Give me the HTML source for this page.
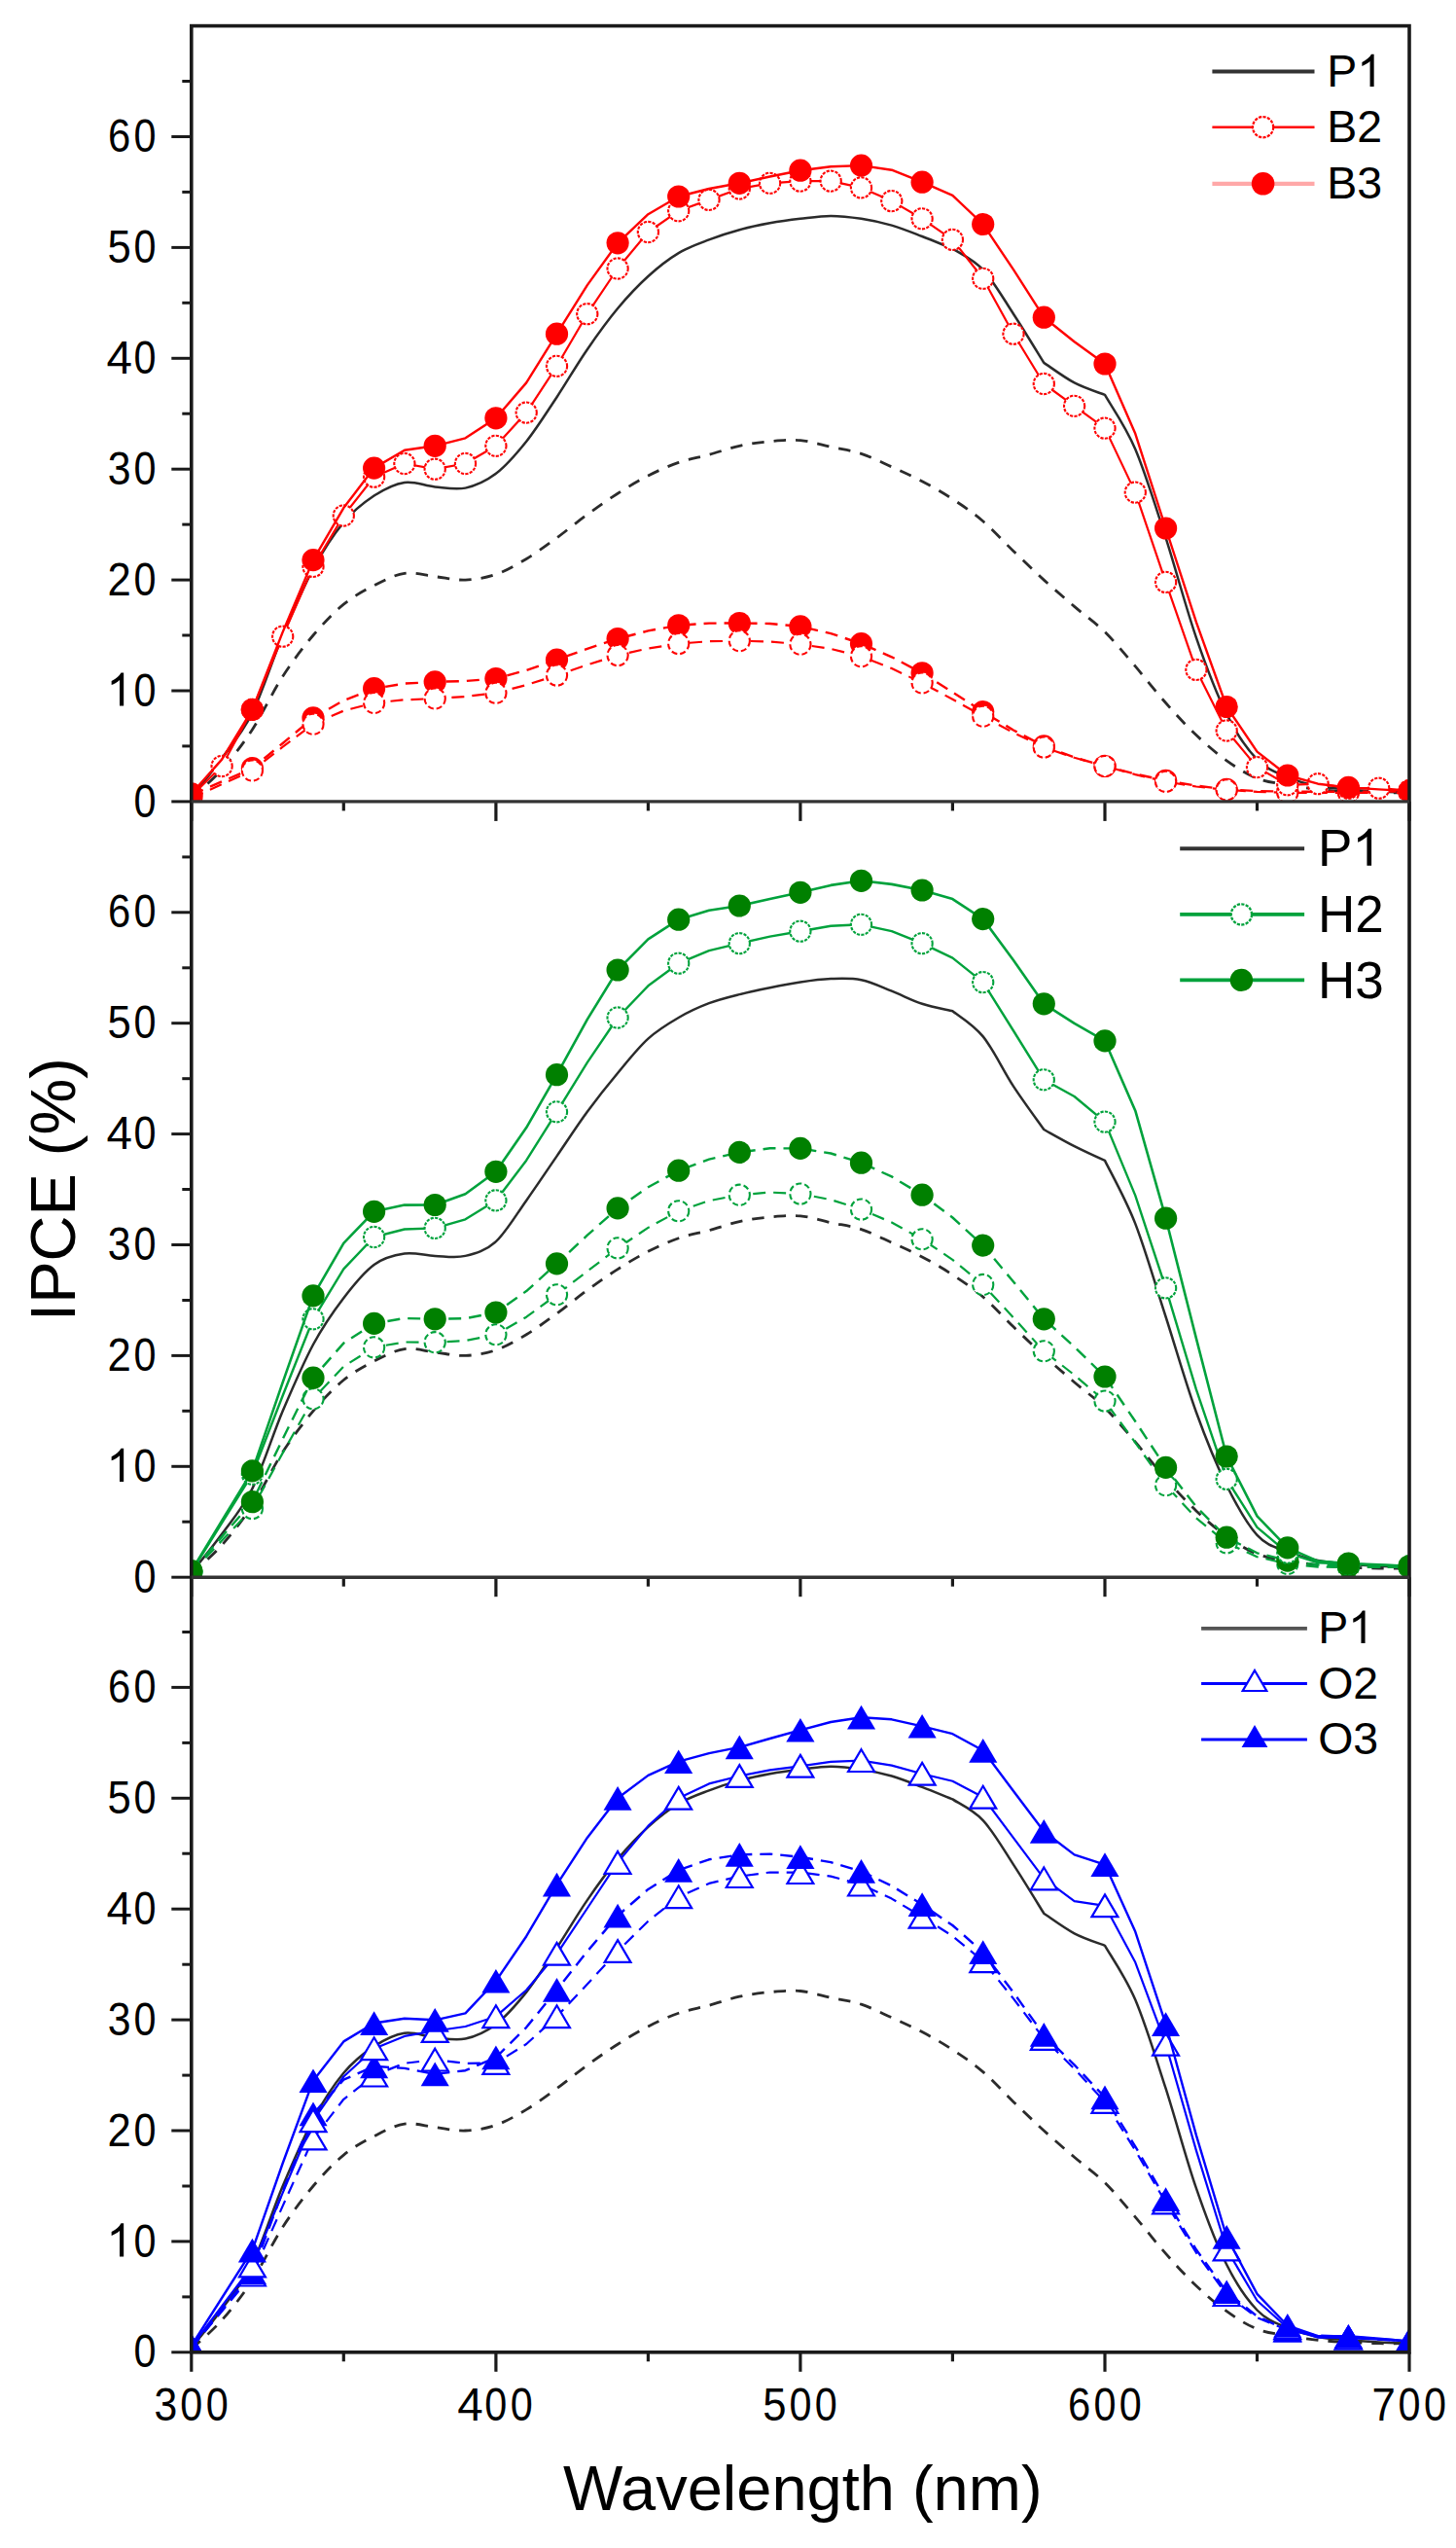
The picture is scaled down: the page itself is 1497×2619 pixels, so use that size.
<!DOCTYPE html>
<html><head><meta charset="utf-8"><title>IPCE</title>
<style>html,body{margin:0;padding:0;background:#fff;width:1497px;height:2619px;overflow:hidden;font-family:"Liberation Sans",sans-serif;}svg{display:block;}</style>
</head><body>
<svg width="1497" height="2619" viewBox="0 0 1497 2619"><rect x="0" y="0" width="1497" height="2619" fill="#fff"/>
<clipPath id="cp0"><rect x="196.8" y="26.6" width="1252.2" height="797.3"/></clipPath>
<clipPath id="cp1"><rect x="196.8" y="823.9" width="1252.2" height="797.3"/></clipPath>
<clipPath id="cp2"><rect x="196.8" y="1620.5" width="1252.2" height="797.3"/></clipPath>
<g clip-path="url(#cp0)">
<path d="M196.8,819.3 C202.0,812.7 217.7,793.9 228.1,779.5 C238.5,765.1 249.0,753.9 259.4,732.8 C269.8,711.7 280.3,677.7 290.7,653.0 C301.2,628.4 311.6,604.1 322.0,584.7 C332.5,565.3 342.9,549.4 353.3,536.9 C363.8,524.3 374.2,516.4 384.6,509.5 C395.1,502.7 405.5,497.4 415.9,495.9 C426.4,494.3 436.8,499.5 447.2,500.4 C457.7,501.4 468.1,503.8 478.5,501.6 C489.0,499.3 499.4,494.7 509.9,486.8 C520.3,478.8 530.7,466.8 541.2,453.7 C551.6,440.6 562.0,423.9 572.5,408.2 C582.9,392.4 593.3,374.4 603.8,359.2 C614.2,344.0 624.6,329.6 635.1,317.0 C645.5,304.5 655.9,293.5 666.4,284.0 C676.8,274.5 687.2,266.4 697.7,260.1 C708.1,253.8 718.5,250.4 729.0,246.4 C739.4,242.4 749.9,239.0 760.3,236.2 C770.7,233.3 781.2,231.2 791.6,229.3 C802.0,227.4 812.5,226.0 822.9,224.8 C833.3,223.6 843.8,221.9 854.2,221.9 C864.6,221.9 875.1,223.2 885.5,224.8 C895.9,226.4 906.4,228.6 916.8,231.6 C927.3,234.7 937.7,239.0 948.1,243.0 C958.6,247.0 974.2,253.5 979.4,255.5 C984.6,259.1 1000.3,266.0 1010.7,277.2 C1021.2,288.4 1031.6,306.8 1042.0,322.7 C1052.5,338.7 1068.1,364.5 1073.3,372.9 C1078.6,376.3 1094.2,387.9 1104.6,393.4 C1115.1,398.9 1130.7,403.8 1136.0,405.9 C1141.2,415.2 1156.8,437.2 1167.3,461.7 C1177.7,486.2 1188.1,520.5 1198.6,552.8 C1209.0,585.1 1219.4,625.1 1229.9,655.3 C1240.3,685.5 1250.7,713.0 1261.2,733.9 C1271.6,754.8 1282.0,769.8 1292.5,780.6 C1302.9,791.4 1313.3,794.3 1323.8,798.8 C1334.2,803.4 1344.7,805.9 1355.1,808.0 C1365.5,810.0 1376.0,810.4 1386.4,811.4 C1396.8,812.3 1407.3,813.1 1417.7,813.6 C1428.1,814.2 1443.8,814.6 1449.0,814.8" fill="none" stroke="#2b2b2b" stroke-width="2.50" stroke-linejoin="round"/>
<path d="M196.8,820.5 C202.0,815.5 217.7,802.6 228.1,790.9 C238.5,779.1 249.0,765.8 259.4,749.9 C269.8,733.9 280.3,711.3 290.7,695.2 C301.2,679.1 311.6,665.4 322.0,653.0 C332.5,640.7 342.9,629.7 353.3,621.2 C363.8,612.6 374.2,607.1 384.6,601.8 C395.1,596.5 405.5,590.8 415.9,589.3 C426.4,587.7 436.8,591.5 447.2,592.7 C457.7,593.8 468.1,596.5 478.5,596.1 C489.0,595.7 499.4,594.0 509.9,590.4 C520.3,586.8 530.7,580.7 541.2,574.5 C551.6,568.2 562.0,560.4 572.5,552.8 C582.9,545.2 593.3,536.5 603.8,528.9 C614.2,521.3 624.6,513.9 635.1,507.3 C645.5,500.6 655.9,494.3 666.4,489.0 C676.8,483.7 687.2,479.0 697.7,475.4 C708.1,471.8 718.5,470.2 729.0,467.4 C739.4,464.5 749.9,460.6 760.3,458.3 C770.7,456.0 781.2,454.7 791.6,453.7 C802.0,452.8 812.5,451.6 822.9,452.6 C833.3,453.5 843.8,457.1 854.2,459.4 C864.6,461.7 875.1,462.8 885.5,466.3 C895.9,469.7 906.4,475.2 916.8,479.9 C927.3,484.7 937.7,489.2 948.1,494.7 C958.6,500.2 969.0,506.1 979.4,513.0 C989.9,519.8 1000.3,526.8 1010.7,535.7 C1021.2,544.7 1031.6,556.4 1042.0,566.5 C1052.5,576.5 1062.9,586.6 1073.3,596.1 C1083.8,605.6 1094.2,614.5 1104.6,623.4 C1115.1,632.4 1125.5,639.4 1136.0,649.6 C1146.4,659.9 1156.8,672.8 1167.3,684.9 C1177.7,697.1 1188.1,710.8 1198.6,722.5 C1209.0,734.3 1219.4,745.7 1229.9,755.6 C1240.3,765.4 1250.7,774.4 1261.2,781.8 C1271.6,789.2 1282.0,795.8 1292.5,800.0 C1302.9,804.2 1313.3,804.9 1323.8,806.8 C1334.2,808.7 1344.7,810.2 1355.1,811.4 C1365.5,812.5 1376.0,813.1 1386.4,813.6 C1396.8,814.2 1407.3,814.6 1417.7,814.8 C1428.1,815.0 1443.8,814.8 1449.0,814.8" fill="none" stroke="#2b2b2b" stroke-width="2.80" stroke-dasharray="12.5,10" stroke-linejoin="round"/>
<path d="M196.8,817.1 L228.1,803.4 L259.4,789.7 L290.7,764.0 L322.0,737.9 L353.3,720.0 L384.6,707.7 L415.9,702.6 L447.2,700.9 L478.5,700.0 L509.9,697.5 L541.2,688.9 L572.5,678.1 L603.8,666.9 L635.1,656.5 L666.4,648.4 L697.7,642.8 L729.0,640.6 L760.3,640.5 L791.6,641.0 L822.9,643.9 L854.2,651.1 L885.5,661.6 L916.8,675.3 L948.1,691.8 L979.4,711.4 L1010.7,731.6 L1042.0,750.5 L1073.3,766.9 L1104.6,778.5 L1136.0,787.5 L1167.3,795.6 L1198.6,802.3 L1229.9,807.6 L1261.2,811.4 L1292.5,813.1 L1323.8,813.6 L1355.1,813.8 L1386.4,813.6 L1417.7,813.6 L1449.0,813.6" fill="none" stroke="#ff0000" stroke-width="2.40" stroke-dasharray="13,8" stroke-linejoin="round"/>
<circle cx="196.8" cy="817.1" r="11.6" fill="#ff0000" stroke="none" stroke-width="0.0"/>
<circle cx="259.4" cy="789.7" r="11.6" fill="#ff0000" stroke="none" stroke-width="0.0"/>
<circle cx="322.0" cy="737.9" r="11.6" fill="#ff0000" stroke="none" stroke-width="0.0"/>
<circle cx="384.6" cy="707.7" r="11.6" fill="#ff0000" stroke="none" stroke-width="0.0"/>
<circle cx="447.2" cy="700.9" r="11.6" fill="#ff0000" stroke="none" stroke-width="0.0"/>
<circle cx="509.9" cy="697.5" r="11.6" fill="#ff0000" stroke="none" stroke-width="0.0"/>
<circle cx="572.5" cy="678.1" r="11.6" fill="#ff0000" stroke="none" stroke-width="0.0"/>
<circle cx="635.1" cy="656.5" r="11.6" fill="#ff0000" stroke="none" stroke-width="0.0"/>
<circle cx="697.7" cy="642.8" r="11.6" fill="#ff0000" stroke="none" stroke-width="0.0"/>
<circle cx="760.3" cy="640.5" r="11.6" fill="#ff0000" stroke="none" stroke-width="0.0"/>
<circle cx="822.9" cy="643.9" r="11.6" fill="#ff0000" stroke="none" stroke-width="0.0"/>
<circle cx="885.5" cy="661.6" r="11.6" fill="#ff0000" stroke="none" stroke-width="0.0"/>
<circle cx="948.1" cy="691.8" r="11.6" fill="#ff0000" stroke="none" stroke-width="0.0"/>
<circle cx="1010.7" cy="731.6" r="11.6" fill="#ff0000" stroke="none" stroke-width="0.0"/>
<circle cx="1073.3" cy="766.9" r="11.6" fill="#ff0000" stroke="none" stroke-width="0.0"/>
<circle cx="1136.0" cy="787.5" r="11.6" fill="#ff0000" stroke="none" stroke-width="0.0"/>
<circle cx="1198.6" cy="802.3" r="11.6" fill="#ff0000" stroke="none" stroke-width="0.0"/>
<circle cx="1261.2" cy="811.4" r="11.6" fill="#ff0000" stroke="none" stroke-width="0.0"/>
<circle cx="1323.8" cy="813.6" r="11.6" fill="#ff0000" stroke="none" stroke-width="0.0"/>
<circle cx="1386.4" cy="813.6" r="11.6" fill="#ff0000" stroke="none" stroke-width="0.0"/>
<circle cx="1449.0" cy="813.6" r="11.6" fill="#ff0000" stroke="none" stroke-width="0.0"/>
<path d="M196.8,820.5 L228.1,806.2 L259.4,792.0 L290.7,767.7 L322.0,744.2 L353.3,730.6 L384.6,722.5 L415.9,719.3 L447.2,718.0 L478.5,716.0 L509.9,712.3 L541.2,704.1 L572.5,694.1 L603.8,683.4 L635.1,673.6 L666.4,666.5 L697.7,661.6 L729.0,659.2 L760.3,658.7 L791.6,659.5 L822.9,662.2 L854.2,666.9 L885.5,674.7 L916.8,687.0 L948.1,702.0 L979.4,718.8 L1010.7,736.2 L1042.0,753.1 L1073.3,768.1 L1104.6,778.8 L1136.0,787.5 L1167.3,796.1 L1198.6,803.4 L1229.9,808.5 L1261.2,811.9 L1292.5,813.9 L1323.8,814.8 L1355.1,815.0 L1386.4,814.8 L1417.7,814.8 L1449.0,814.8" fill="none" stroke="#ff0000" stroke-width="2.20" stroke-dasharray="13,8" stroke-linejoin="round"/>
<circle cx="196.8" cy="820.5" r="10.6" fill="#fff" stroke="#ff0000" stroke-width="2.1" stroke-dasharray="6,3"/>
<circle cx="259.4" cy="792.0" r="10.6" fill="#fff" stroke="#ff0000" stroke-width="2.1" stroke-dasharray="6,3"/>
<circle cx="322.0" cy="744.2" r="10.6" fill="#fff" stroke="#ff0000" stroke-width="2.1" stroke-dasharray="6,3"/>
<circle cx="384.6" cy="722.5" r="10.6" fill="#fff" stroke="#ff0000" stroke-width="2.1" stroke-dasharray="6,3"/>
<circle cx="447.2" cy="718.0" r="10.6" fill="#fff" stroke="#ff0000" stroke-width="2.1" stroke-dasharray="6,3"/>
<circle cx="509.9" cy="712.3" r="10.6" fill="#fff" stroke="#ff0000" stroke-width="2.1" stroke-dasharray="6,3"/>
<circle cx="572.5" cy="694.1" r="10.6" fill="#fff" stroke="#ff0000" stroke-width="2.1" stroke-dasharray="6,3"/>
<circle cx="635.1" cy="673.6" r="10.6" fill="#fff" stroke="#ff0000" stroke-width="2.1" stroke-dasharray="6,3"/>
<circle cx="697.7" cy="661.6" r="10.6" fill="#fff" stroke="#ff0000" stroke-width="2.1" stroke-dasharray="6,3"/>
<circle cx="760.3" cy="658.7" r="10.6" fill="#fff" stroke="#ff0000" stroke-width="2.1" stroke-dasharray="6,3"/>
<circle cx="822.9" cy="662.2" r="10.6" fill="#fff" stroke="#ff0000" stroke-width="2.1" stroke-dasharray="6,3"/>
<circle cx="885.5" cy="674.7" r="10.6" fill="#fff" stroke="#ff0000" stroke-width="2.1" stroke-dasharray="6,3"/>
<circle cx="948.1" cy="702.0" r="10.6" fill="#fff" stroke="#ff0000" stroke-width="2.1" stroke-dasharray="6,3"/>
<circle cx="1010.7" cy="736.2" r="10.6" fill="#fff" stroke="#ff0000" stroke-width="2.1" stroke-dasharray="6,3"/>
<circle cx="1073.3" cy="768.1" r="10.6" fill="#fff" stroke="#ff0000" stroke-width="2.1" stroke-dasharray="6,3"/>
<circle cx="1136.0" cy="787.5" r="10.6" fill="#fff" stroke="#ff0000" stroke-width="2.1" stroke-dasharray="6,3"/>
<circle cx="1198.6" cy="803.4" r="10.6" fill="#fff" stroke="#ff0000" stroke-width="2.1" stroke-dasharray="6,3"/>
<circle cx="1261.2" cy="811.9" r="10.6" fill="#fff" stroke="#ff0000" stroke-width="2.1" stroke-dasharray="6,3"/>
<circle cx="1323.8" cy="814.8" r="10.6" fill="#fff" stroke="#ff0000" stroke-width="2.1" stroke-dasharray="6,3"/>
<circle cx="1386.4" cy="814.8" r="10.6" fill="#fff" stroke="#ff0000" stroke-width="2.1" stroke-dasharray="6,3"/>
<circle cx="1449.0" cy="814.8" r="10.6" fill="#fff" stroke="#ff0000" stroke-width="2.1" stroke-dasharray="6,3"/>
<path d="M196.8,818.2 L228.1,787.5 L259.4,729.4 L290.7,654.2 L322.0,582.4 L353.3,530.0 L384.6,490.2 L415.9,476.5 L447.2,482.2 L478.5,476.5 L509.9,458.3 L541.2,424.1 L572.5,376.3 L603.8,322.7 L635.1,276.0 L666.4,238.5 L697.7,216.8 L729.0,205.4 L760.3,194.0 L791.6,188.3 L822.9,186.1 L854.2,186.1 L885.5,192.9 L916.8,206.6 L948.1,224.8 L979.4,246.4 L1010.7,286.3 L1042.0,343.2 L1073.3,394.5 L1104.6,417.3 L1136.0,440.1 L1167.3,506.1 L1198.6,598.4 L1229.9,688.4 L1261.2,751.0 L1292.5,788.6 L1323.8,806.8 L1355.1,805.7 L1386.4,810.2 L1417.7,810.2 L1449.0,812.5" fill="none" stroke="#ff0000" stroke-width="2.20" stroke-linejoin="round"/>
<circle cx="196.8" cy="818.2" r="10.6" fill="#fff" stroke="#ff0000" stroke-width="2.1" stroke-dasharray="3.2,1.3"/>
<circle cx="228.1" cy="787.5" r="10.6" fill="#fff" stroke="#ff0000" stroke-width="2.1" stroke-dasharray="3.2,1.3"/>
<circle cx="259.4" cy="729.4" r="10.6" fill="#fff" stroke="#ff0000" stroke-width="2.1" stroke-dasharray="3.2,1.3"/>
<circle cx="290.7" cy="654.2" r="10.6" fill="#fff" stroke="#ff0000" stroke-width="2.1" stroke-dasharray="3.2,1.3"/>
<circle cx="322.0" cy="582.4" r="10.6" fill="#fff" stroke="#ff0000" stroke-width="2.1" stroke-dasharray="3.2,1.3"/>
<circle cx="353.3" cy="530.0" r="10.6" fill="#fff" stroke="#ff0000" stroke-width="2.1" stroke-dasharray="3.2,1.3"/>
<circle cx="384.6" cy="490.2" r="10.6" fill="#fff" stroke="#ff0000" stroke-width="2.1" stroke-dasharray="3.2,1.3"/>
<circle cx="415.9" cy="476.5" r="10.6" fill="#fff" stroke="#ff0000" stroke-width="2.1" stroke-dasharray="3.2,1.3"/>
<circle cx="447.2" cy="482.2" r="10.6" fill="#fff" stroke="#ff0000" stroke-width="2.1" stroke-dasharray="3.2,1.3"/>
<circle cx="478.5" cy="476.5" r="10.6" fill="#fff" stroke="#ff0000" stroke-width="2.1" stroke-dasharray="3.2,1.3"/>
<circle cx="509.9" cy="458.3" r="10.6" fill="#fff" stroke="#ff0000" stroke-width="2.1" stroke-dasharray="3.2,1.3"/>
<circle cx="541.2" cy="424.1" r="10.6" fill="#fff" stroke="#ff0000" stroke-width="2.1" stroke-dasharray="3.2,1.3"/>
<circle cx="572.5" cy="376.3" r="10.6" fill="#fff" stroke="#ff0000" stroke-width="2.1" stroke-dasharray="3.2,1.3"/>
<circle cx="603.8" cy="322.7" r="10.6" fill="#fff" stroke="#ff0000" stroke-width="2.1" stroke-dasharray="3.2,1.3"/>
<circle cx="635.1" cy="276.0" r="10.6" fill="#fff" stroke="#ff0000" stroke-width="2.1" stroke-dasharray="3.2,1.3"/>
<circle cx="666.4" cy="238.5" r="10.6" fill="#fff" stroke="#ff0000" stroke-width="2.1" stroke-dasharray="3.2,1.3"/>
<circle cx="697.7" cy="216.8" r="10.6" fill="#fff" stroke="#ff0000" stroke-width="2.1" stroke-dasharray="3.2,1.3"/>
<circle cx="729.0" cy="205.4" r="10.6" fill="#fff" stroke="#ff0000" stroke-width="2.1" stroke-dasharray="3.2,1.3"/>
<circle cx="760.3" cy="194.0" r="10.6" fill="#fff" stroke="#ff0000" stroke-width="2.1" stroke-dasharray="3.2,1.3"/>
<circle cx="791.6" cy="188.3" r="10.6" fill="#fff" stroke="#ff0000" stroke-width="2.1" stroke-dasharray="3.2,1.3"/>
<circle cx="822.9" cy="186.1" r="10.6" fill="#fff" stroke="#ff0000" stroke-width="2.1" stroke-dasharray="3.2,1.3"/>
<circle cx="854.2" cy="186.1" r="10.6" fill="#fff" stroke="#ff0000" stroke-width="2.1" stroke-dasharray="3.2,1.3"/>
<circle cx="885.5" cy="192.9" r="10.6" fill="#fff" stroke="#ff0000" stroke-width="2.1" stroke-dasharray="3.2,1.3"/>
<circle cx="916.8" cy="206.6" r="10.6" fill="#fff" stroke="#ff0000" stroke-width="2.1" stroke-dasharray="3.2,1.3"/>
<circle cx="948.1" cy="224.8" r="10.6" fill="#fff" stroke="#ff0000" stroke-width="2.1" stroke-dasharray="3.2,1.3"/>
<circle cx="979.4" cy="246.4" r="10.6" fill="#fff" stroke="#ff0000" stroke-width="2.1" stroke-dasharray="3.2,1.3"/>
<circle cx="1010.7" cy="286.3" r="10.6" fill="#fff" stroke="#ff0000" stroke-width="2.1" stroke-dasharray="3.2,1.3"/>
<circle cx="1042.0" cy="343.2" r="10.6" fill="#fff" stroke="#ff0000" stroke-width="2.1" stroke-dasharray="3.2,1.3"/>
<circle cx="1073.3" cy="394.5" r="10.6" fill="#fff" stroke="#ff0000" stroke-width="2.1" stroke-dasharray="3.2,1.3"/>
<circle cx="1104.6" cy="417.3" r="10.6" fill="#fff" stroke="#ff0000" stroke-width="2.1" stroke-dasharray="3.2,1.3"/>
<circle cx="1136.0" cy="440.1" r="10.6" fill="#fff" stroke="#ff0000" stroke-width="2.1" stroke-dasharray="3.2,1.3"/>
<circle cx="1167.3" cy="506.1" r="10.6" fill="#fff" stroke="#ff0000" stroke-width="2.1" stroke-dasharray="3.2,1.3"/>
<circle cx="1198.6" cy="598.4" r="10.6" fill="#fff" stroke="#ff0000" stroke-width="2.1" stroke-dasharray="3.2,1.3"/>
<circle cx="1229.9" cy="688.4" r="10.6" fill="#fff" stroke="#ff0000" stroke-width="2.1" stroke-dasharray="3.2,1.3"/>
<circle cx="1261.2" cy="751.0" r="10.6" fill="#fff" stroke="#ff0000" stroke-width="2.1" stroke-dasharray="3.2,1.3"/>
<circle cx="1292.5" cy="788.6" r="10.6" fill="#fff" stroke="#ff0000" stroke-width="2.1" stroke-dasharray="3.2,1.3"/>
<circle cx="1323.8" cy="806.8" r="10.6" fill="#fff" stroke="#ff0000" stroke-width="2.1" stroke-dasharray="3.2,1.3"/>
<circle cx="1355.1" cy="805.7" r="10.6" fill="#fff" stroke="#ff0000" stroke-width="2.1" stroke-dasharray="3.2,1.3"/>
<circle cx="1386.4" cy="810.2" r="10.6" fill="#fff" stroke="#ff0000" stroke-width="2.1" stroke-dasharray="3.2,1.3"/>
<circle cx="1417.7" cy="810.2" r="10.6" fill="#fff" stroke="#ff0000" stroke-width="2.1" stroke-dasharray="3.2,1.3"/>
<circle cx="1449.0" cy="812.5" r="10.6" fill="#fff" stroke="#ff0000" stroke-width="2.1" stroke-dasharray="3.2,1.3"/>
<path d="M196.8,815.9 L228.1,780.6 L259.4,729.4 L290.7,649.6 L322.0,575.6 L353.3,522.1 L384.6,481.1 L415.9,462.8 L447.2,458.3 L478.5,450.3 L509.9,429.8 L541.2,393.4 L572.5,343.2 L603.8,293.1 L635.1,249.8 L666.4,220.2 L697.7,202.0 L729.0,194.0 L760.3,188.3 L791.6,181.5 L822.9,175.2 L854.2,171.3 L885.5,170.1 L916.8,174.7 L948.1,187.2 L979.4,200.9 L1010.7,230.5 L1042.0,277.2 L1073.3,326.2 L1104.6,351.2 L1136.0,374.0 L1167.3,445.8 L1198.6,543.0 L1229.9,639.4 L1261.2,726.5 L1292.5,772.6 L1323.8,797.0 L1355.1,805.7 L1386.4,809.4 L1417.7,811.4 L1449.0,813.1" fill="none" stroke="#ff0000" stroke-width="2.40" stroke-linejoin="round"/>
<circle cx="196.8" cy="815.9" r="11.6" fill="#ff0000" stroke="none" stroke-width="0.0"/>
<circle cx="259.4" cy="729.4" r="11.6" fill="#ff0000" stroke="none" stroke-width="0.0"/>
<circle cx="322.0" cy="575.6" r="11.6" fill="#ff0000" stroke="none" stroke-width="0.0"/>
<circle cx="384.6" cy="481.1" r="11.6" fill="#ff0000" stroke="none" stroke-width="0.0"/>
<circle cx="447.2" cy="458.3" r="11.6" fill="#ff0000" stroke="none" stroke-width="0.0"/>
<circle cx="509.9" cy="429.8" r="11.6" fill="#ff0000" stroke="none" stroke-width="0.0"/>
<circle cx="572.5" cy="343.2" r="11.6" fill="#ff0000" stroke="none" stroke-width="0.0"/>
<circle cx="635.1" cy="249.8" r="11.6" fill="#ff0000" stroke="none" stroke-width="0.0"/>
<circle cx="697.7" cy="202.0" r="11.6" fill="#ff0000" stroke="none" stroke-width="0.0"/>
<circle cx="760.3" cy="188.3" r="11.6" fill="#ff0000" stroke="none" stroke-width="0.0"/>
<circle cx="822.9" cy="175.2" r="11.6" fill="#ff0000" stroke="none" stroke-width="0.0"/>
<circle cx="885.5" cy="170.1" r="11.6" fill="#ff0000" stroke="none" stroke-width="0.0"/>
<circle cx="948.1" cy="187.2" r="11.6" fill="#ff0000" stroke="none" stroke-width="0.0"/>
<circle cx="1010.7" cy="230.5" r="11.6" fill="#ff0000" stroke="none" stroke-width="0.0"/>
<circle cx="1073.3" cy="326.2" r="11.6" fill="#ff0000" stroke="none" stroke-width="0.0"/>
<circle cx="1136.0" cy="374.0" r="11.6" fill="#ff0000" stroke="none" stroke-width="0.0"/>
<circle cx="1198.6" cy="543.0" r="11.6" fill="#ff0000" stroke="none" stroke-width="0.0"/>
<circle cx="1261.2" cy="726.5" r="11.6" fill="#ff0000" stroke="none" stroke-width="0.0"/>
<circle cx="1323.8" cy="797.0" r="11.6" fill="#ff0000" stroke="none" stroke-width="0.0"/>
<circle cx="1386.4" cy="809.4" r="11.6" fill="#ff0000" stroke="none" stroke-width="0.0"/>
<circle cx="1449.0" cy="813.1" r="11.6" fill="#ff0000" stroke="none" stroke-width="0.0"/>
</g>
<g clip-path="url(#cp1)">
<path d="M196.8,1616.6 C202.0,1610.0 217.7,1591.2 228.1,1576.8 C238.5,1562.4 249.0,1551.2 259.4,1530.1 C269.8,1509.0 280.3,1475.0 290.7,1450.3 C301.2,1425.7 311.6,1401.4 322.0,1382.0 C332.5,1362.6 342.9,1347.8 353.3,1334.2 C363.8,1320.5 374.2,1307.6 384.6,1300.0 C395.1,1292.4 405.5,1290.1 415.9,1288.6 C426.4,1287.1 436.8,1290.5 447.2,1290.9 C457.7,1291.3 468.1,1293.4 478.5,1290.9 C489.0,1288.4 499.4,1285.6 509.9,1276.1 C520.3,1266.6 530.7,1248.6 541.2,1233.9 C551.6,1219.3 562.0,1203.6 572.5,1188.4 C582.9,1173.2 593.3,1157.1 603.8,1142.8 C614.2,1128.6 624.6,1115.5 635.1,1103.0 C645.5,1090.4 655.9,1077.1 666.4,1067.6 C676.8,1058.2 687.2,1052.1 697.7,1046.0 C708.1,1039.9 718.5,1035.2 729.0,1031.2 C739.4,1027.2 749.9,1024.7 760.3,1022.1 C770.7,1019.4 781.2,1017.3 791.6,1015.3 C802.0,1013.2 812.5,1011.1 822.9,1009.6 C833.3,1008.0 843.8,1006.5 854.2,1006.1 C864.6,1005.8 875.1,1005.2 885.5,1007.3 C895.9,1009.4 906.4,1014.6 916.8,1018.7 C927.3,1022.8 937.7,1028.4 948.1,1031.8 C958.6,1035.2 974.2,1037.9 979.4,1039.2 C984.6,1043.5 1000.3,1052.5 1010.7,1065.4 C1021.2,1078.3 1031.6,1100.7 1042.0,1116.6 C1052.5,1132.6 1068.1,1153.6 1073.3,1161.0 C1078.6,1163.9 1094.2,1172.8 1104.6,1178.1 C1115.1,1183.4 1130.7,1190.5 1136.0,1192.9 C1141.2,1203.8 1156.8,1231.1 1167.3,1257.9 C1177.7,1284.6 1188.1,1321.3 1198.6,1353.5 C1209.0,1385.8 1219.4,1422.6 1229.9,1451.5 C1240.3,1480.3 1250.7,1505.6 1261.2,1526.7 C1271.6,1547.7 1282.0,1566.5 1292.5,1577.9 C1302.9,1589.3 1313.3,1590.6 1323.8,1595.0 C1334.2,1599.4 1344.7,1602.0 1355.1,1604.1 C1365.5,1606.2 1376.0,1606.6 1386.4,1607.5 C1396.8,1608.5 1407.3,1609.2 1417.7,1609.8 C1428.1,1610.4 1443.8,1610.8 1449.0,1610.9" fill="none" stroke="#2b2b2b" stroke-width="2.50" stroke-linejoin="round"/>
<path d="M196.8,1617.8 C202.0,1612.8 217.7,1599.9 228.1,1588.2 C238.5,1576.4 249.0,1563.1 259.4,1547.2 C269.8,1531.2 280.3,1508.6 290.7,1492.5 C301.2,1476.4 311.6,1462.7 322.0,1450.3 C332.5,1438.0 342.9,1427.0 353.3,1418.5 C363.8,1409.9 374.2,1404.4 384.6,1399.1 C395.1,1393.8 405.5,1388.1 415.9,1386.6 C426.4,1385.0 436.8,1388.8 447.2,1390.0 C457.7,1391.1 468.1,1393.8 478.5,1393.4 C489.0,1393.0 499.4,1391.3 509.9,1387.7 C520.3,1384.1 530.7,1378.0 541.2,1371.8 C551.6,1365.5 562.0,1357.7 572.5,1350.1 C582.9,1342.5 593.3,1333.8 603.8,1326.2 C614.2,1318.6 624.6,1311.2 635.1,1304.6 C645.5,1297.9 655.9,1291.6 666.4,1286.3 C676.8,1281.0 687.2,1276.3 697.7,1272.7 C708.1,1269.1 718.5,1267.5 729.0,1264.7 C739.4,1261.8 749.9,1257.9 760.3,1255.6 C770.7,1253.3 781.2,1252.0 791.6,1251.0 C802.0,1250.1 812.5,1248.9 822.9,1249.9 C833.3,1250.8 843.8,1254.4 854.2,1256.7 C864.6,1259.0 875.1,1260.1 885.5,1263.6 C895.9,1267.0 906.4,1272.5 916.8,1277.2 C927.3,1282.0 937.7,1286.5 948.1,1292.0 C958.6,1297.5 969.0,1303.4 979.4,1310.3 C989.9,1317.1 1000.3,1324.1 1010.7,1333.0 C1021.2,1342.0 1031.6,1353.7 1042.0,1363.8 C1052.5,1373.8 1062.9,1383.9 1073.3,1393.4 C1083.8,1402.9 1094.2,1411.8 1104.6,1420.7 C1115.1,1429.7 1125.5,1436.7 1136.0,1446.9 C1146.4,1457.2 1156.8,1470.1 1167.3,1482.2 C1177.7,1494.4 1188.1,1508.1 1198.6,1519.8 C1209.0,1531.6 1219.4,1543.0 1229.9,1552.9 C1240.3,1562.7 1250.7,1571.7 1261.2,1579.1 C1271.6,1586.5 1282.0,1593.1 1292.5,1597.3 C1302.9,1601.5 1313.3,1602.2 1323.8,1604.1 C1334.2,1606.0 1344.7,1607.5 1355.1,1608.7 C1365.5,1609.8 1376.0,1610.4 1386.4,1610.9 C1396.8,1611.5 1407.3,1611.9 1417.7,1612.1 C1428.1,1612.3 1443.8,1612.1 1449.0,1612.1" fill="none" stroke="#2b2b2b" stroke-width="2.80" stroke-dasharray="12.5,10" stroke-linejoin="round"/>
<path d="M196.8,1616.6 L228.1,1583.6 L259.4,1550.6 L290.7,1493.4 L322.0,1437.8 L353.3,1404.6 L384.6,1384.9 L415.9,1379.5 L447.2,1379.7 L478.5,1378.0 L509.9,1371.8 L541.2,1353.7 L572.5,1330.8 L603.8,1306.7 L635.1,1282.9 L666.4,1261.9 L697.7,1244.8 L729.0,1234.2 L760.3,1228.2 L791.6,1225.6 L822.9,1227.1 L854.2,1233.1 L885.5,1243.1 L916.8,1256.5 L948.1,1273.8 L979.4,1294.8 L1010.7,1320.5 L1042.0,1354.4 L1073.3,1388.8 L1104.6,1413.3 L1136.0,1440.1 L1167.3,1482.9 L1198.6,1526.7 L1229.9,1560.3 L1261.2,1585.9 L1292.5,1600.2 L1323.8,1607.5 L1355.1,1610.6 L1386.4,1610.9 L1417.7,1610.9 L1449.0,1610.9" fill="none" stroke="#00a23c" stroke-width="2.20" stroke-dasharray="13,8" stroke-linejoin="round"/>
<circle cx="196.8" cy="1616.6" r="10.6" fill="#fff" stroke="#00a23c" stroke-width="2.1" stroke-dasharray="6,3"/>
<circle cx="259.4" cy="1550.6" r="10.6" fill="#fff" stroke="#00a23c" stroke-width="2.1" stroke-dasharray="6,3"/>
<circle cx="322.0" cy="1437.8" r="10.6" fill="#fff" stroke="#00a23c" stroke-width="2.1" stroke-dasharray="6,3"/>
<circle cx="384.6" cy="1384.9" r="10.6" fill="#fff" stroke="#00a23c" stroke-width="2.1" stroke-dasharray="6,3"/>
<circle cx="447.2" cy="1379.7" r="10.6" fill="#fff" stroke="#00a23c" stroke-width="2.1" stroke-dasharray="6,3"/>
<circle cx="509.9" cy="1371.8" r="10.6" fill="#fff" stroke="#00a23c" stroke-width="2.1" stroke-dasharray="6,3"/>
<circle cx="572.5" cy="1330.8" r="10.6" fill="#fff" stroke="#00a23c" stroke-width="2.1" stroke-dasharray="6,3"/>
<circle cx="635.1" cy="1282.9" r="10.6" fill="#fff" stroke="#00a23c" stroke-width="2.1" stroke-dasharray="6,3"/>
<circle cx="697.7" cy="1244.8" r="10.6" fill="#fff" stroke="#00a23c" stroke-width="2.1" stroke-dasharray="6,3"/>
<circle cx="760.3" cy="1228.2" r="10.6" fill="#fff" stroke="#00a23c" stroke-width="2.1" stroke-dasharray="6,3"/>
<circle cx="822.9" cy="1227.1" r="10.6" fill="#fff" stroke="#00a23c" stroke-width="2.1" stroke-dasharray="6,3"/>
<circle cx="885.5" cy="1243.1" r="10.6" fill="#fff" stroke="#00a23c" stroke-width="2.1" stroke-dasharray="6,3"/>
<circle cx="948.1" cy="1273.8" r="10.6" fill="#fff" stroke="#00a23c" stroke-width="2.1" stroke-dasharray="6,3"/>
<circle cx="1010.7" cy="1320.5" r="10.6" fill="#fff" stroke="#00a23c" stroke-width="2.1" stroke-dasharray="6,3"/>
<circle cx="1073.3" cy="1388.8" r="10.6" fill="#fff" stroke="#00a23c" stroke-width="2.1" stroke-dasharray="6,3"/>
<circle cx="1136.0" cy="1440.1" r="10.6" fill="#fff" stroke="#00a23c" stroke-width="2.1" stroke-dasharray="6,3"/>
<circle cx="1198.6" cy="1526.7" r="10.6" fill="#fff" stroke="#00a23c" stroke-width="2.1" stroke-dasharray="6,3"/>
<circle cx="1261.2" cy="1585.9" r="10.6" fill="#fff" stroke="#00a23c" stroke-width="2.1" stroke-dasharray="6,3"/>
<circle cx="1323.8" cy="1607.5" r="10.6" fill="#fff" stroke="#00a23c" stroke-width="2.1" stroke-dasharray="6,3"/>
<circle cx="1386.4" cy="1610.9" r="10.6" fill="#fff" stroke="#00a23c" stroke-width="2.1" stroke-dasharray="6,3"/>
<circle cx="1449.0" cy="1610.9" r="10.6" fill="#fff" stroke="#00a23c" stroke-width="2.1" stroke-dasharray="6,3"/>
<path d="M196.8,1615.5 L228.1,1579.6 L259.4,1543.7 L290.7,1479.0 L322.0,1416.2 L353.3,1380.6 L384.6,1360.4 L415.9,1355.0 L447.2,1355.8 L478.5,1355.2 L509.9,1349.0 L541.2,1327.1 L572.5,1298.9 L603.8,1269.7 L635.1,1241.9 L666.4,1220.2 L697.7,1203.2 L729.0,1191.6 L760.3,1184.4 L791.6,1180.3 L822.9,1180.4 L854.2,1185.5 L885.5,1195.2 L916.8,1209.4 L948.1,1228.2 L979.4,1251.5 L1010.7,1280.1 L1042.0,1317.5 L1073.3,1355.8 L1104.6,1384.3 L1136.0,1415.0 L1167.3,1461.0 L1198.6,1508.4 L1229.9,1548.7 L1261.2,1580.2 L1292.5,1596.3 L1323.8,1604.1 L1355.1,1608.4 L1386.4,1609.8 L1417.7,1610.4 L1449.0,1610.9" fill="none" stroke="#00a23c" stroke-width="2.40" stroke-dasharray="13,8" stroke-linejoin="round"/>
<circle cx="196.8" cy="1615.5" r="11.6" fill="#008000" stroke="none" stroke-width="0.0"/>
<circle cx="259.4" cy="1543.7" r="11.6" fill="#008000" stroke="none" stroke-width="0.0"/>
<circle cx="322.0" cy="1416.2" r="11.6" fill="#008000" stroke="none" stroke-width="0.0"/>
<circle cx="384.6" cy="1360.4" r="11.6" fill="#008000" stroke="none" stroke-width="0.0"/>
<circle cx="447.2" cy="1355.8" r="11.6" fill="#008000" stroke="none" stroke-width="0.0"/>
<circle cx="509.9" cy="1349.0" r="11.6" fill="#008000" stroke="none" stroke-width="0.0"/>
<circle cx="572.5" cy="1298.9" r="11.6" fill="#008000" stroke="none" stroke-width="0.0"/>
<circle cx="635.1" cy="1241.9" r="11.6" fill="#008000" stroke="none" stroke-width="0.0"/>
<circle cx="697.7" cy="1203.2" r="11.6" fill="#008000" stroke="none" stroke-width="0.0"/>
<circle cx="760.3" cy="1184.4" r="11.6" fill="#008000" stroke="none" stroke-width="0.0"/>
<circle cx="822.9" cy="1180.4" r="11.6" fill="#008000" stroke="none" stroke-width="0.0"/>
<circle cx="885.5" cy="1195.2" r="11.6" fill="#008000" stroke="none" stroke-width="0.0"/>
<circle cx="948.1" cy="1228.2" r="11.6" fill="#008000" stroke="none" stroke-width="0.0"/>
<circle cx="1010.7" cy="1280.1" r="11.6" fill="#008000" stroke="none" stroke-width="0.0"/>
<circle cx="1073.3" cy="1355.8" r="11.6" fill="#008000" stroke="none" stroke-width="0.0"/>
<circle cx="1136.0" cy="1415.0" r="11.6" fill="#008000" stroke="none" stroke-width="0.0"/>
<circle cx="1198.6" cy="1508.4" r="11.6" fill="#008000" stroke="none" stroke-width="0.0"/>
<circle cx="1261.2" cy="1580.2" r="11.6" fill="#008000" stroke="none" stroke-width="0.0"/>
<circle cx="1323.8" cy="1604.1" r="11.6" fill="#008000" stroke="none" stroke-width="0.0"/>
<circle cx="1386.4" cy="1609.8" r="11.6" fill="#008000" stroke="none" stroke-width="0.0"/>
<circle cx="1449.0" cy="1610.9" r="11.6" fill="#008000" stroke="none" stroke-width="0.0"/>
<path d="M196.8,1615.5 L228.1,1565.4 L259.4,1515.3 L290.7,1434.5 L322.0,1355.8 L353.3,1304.3 L384.6,1271.5 L415.9,1263.5 L447.2,1262.4 L478.5,1253.3 L509.9,1233.9 L541.2,1192.7 L572.5,1142.8 L603.8,1092.2 L635.1,1046.0 L666.4,1013.3 L697.7,990.2 L729.0,977.2 L760.3,969.7 L791.6,962.6 L822.9,957.2 L854.2,951.8 L885.5,950.3 L916.8,957.1 L948.1,969.7 L979.4,984.6 L1010.7,1009.6 L1042.0,1059.5 L1073.3,1109.8 L1104.6,1127.0 L1136.0,1153.1 L1167.3,1228.9 L1198.6,1323.9 L1229.9,1428.1 L1261.2,1520.4 L1292.5,1569.8 L1323.8,1596.1 L1355.1,1606.4 L1386.4,1607.5 L1417.7,1608.7 L1449.0,1609.8" fill="none" stroke="#00a23c" stroke-width="2.40" stroke-linejoin="round"/>
<circle cx="196.8" cy="1615.5" r="10.6" fill="#fff" stroke="#00a23c" stroke-width="2.1" stroke-dasharray="3.2,1.3"/>
<circle cx="259.4" cy="1515.3" r="10.6" fill="#fff" stroke="#00a23c" stroke-width="2.1" stroke-dasharray="3.2,1.3"/>
<circle cx="322.0" cy="1355.8" r="10.6" fill="#fff" stroke="#00a23c" stroke-width="2.1" stroke-dasharray="3.2,1.3"/>
<circle cx="384.6" cy="1271.5" r="10.6" fill="#fff" stroke="#00a23c" stroke-width="2.1" stroke-dasharray="3.2,1.3"/>
<circle cx="447.2" cy="1262.4" r="10.6" fill="#fff" stroke="#00a23c" stroke-width="2.1" stroke-dasharray="3.2,1.3"/>
<circle cx="509.9" cy="1233.9" r="10.6" fill="#fff" stroke="#00a23c" stroke-width="2.1" stroke-dasharray="3.2,1.3"/>
<circle cx="572.5" cy="1142.8" r="10.6" fill="#fff" stroke="#00a23c" stroke-width="2.1" stroke-dasharray="3.2,1.3"/>
<circle cx="635.1" cy="1046.0" r="10.6" fill="#fff" stroke="#00a23c" stroke-width="2.1" stroke-dasharray="3.2,1.3"/>
<circle cx="697.7" cy="990.2" r="10.6" fill="#fff" stroke="#00a23c" stroke-width="2.1" stroke-dasharray="3.2,1.3"/>
<circle cx="760.3" cy="969.7" r="10.6" fill="#fff" stroke="#00a23c" stroke-width="2.1" stroke-dasharray="3.2,1.3"/>
<circle cx="822.9" cy="957.2" r="10.6" fill="#fff" stroke="#00a23c" stroke-width="2.1" stroke-dasharray="3.2,1.3"/>
<circle cx="885.5" cy="950.3" r="10.6" fill="#fff" stroke="#00a23c" stroke-width="2.1" stroke-dasharray="3.2,1.3"/>
<circle cx="948.1" cy="969.7" r="10.6" fill="#fff" stroke="#00a23c" stroke-width="2.1" stroke-dasharray="3.2,1.3"/>
<circle cx="1010.7" cy="1009.6" r="10.6" fill="#fff" stroke="#00a23c" stroke-width="2.1" stroke-dasharray="3.2,1.3"/>
<circle cx="1073.3" cy="1109.8" r="10.6" fill="#fff" stroke="#00a23c" stroke-width="2.1" stroke-dasharray="3.2,1.3"/>
<circle cx="1136.0" cy="1153.1" r="10.6" fill="#fff" stroke="#00a23c" stroke-width="2.1" stroke-dasharray="3.2,1.3"/>
<circle cx="1198.6" cy="1323.9" r="10.6" fill="#fff" stroke="#00a23c" stroke-width="2.1" stroke-dasharray="3.2,1.3"/>
<circle cx="1261.2" cy="1520.4" r="10.6" fill="#fff" stroke="#00a23c" stroke-width="2.1" stroke-dasharray="3.2,1.3"/>
<circle cx="1323.8" cy="1596.1" r="10.6" fill="#fff" stroke="#00a23c" stroke-width="2.1" stroke-dasharray="3.2,1.3"/>
<circle cx="1386.4" cy="1607.5" r="10.6" fill="#fff" stroke="#00a23c" stroke-width="2.1" stroke-dasharray="3.2,1.3"/>
<circle cx="1449.0" cy="1609.8" r="10.6" fill="#fff" stroke="#00a23c" stroke-width="2.1" stroke-dasharray="3.2,1.3"/>
<path d="M196.8,1614.7 L228.1,1563.3 L259.4,1511.9 L290.7,1420.9 L322.0,1331.9 L353.3,1277.8 L384.6,1245.3 L415.9,1238.6 L447.2,1238.5 L478.5,1227.2 L509.9,1204.3 L541.2,1159.1 L572.5,1104.7 L603.8,1047.9 L635.1,997.0 L666.4,965.3 L697.7,945.2 L729.0,935.7 L760.3,931.0 L791.6,924.0 L822.9,917.3 L854.2,909.9 L885.5,905.3 L916.8,908.9 L948.1,915.0 L979.4,924.1 L1010.7,944.6 L1042.0,987.1 L1073.3,1031.8 L1104.6,1051.8 L1136.0,1069.9 L1167.3,1141.7 L1198.6,1252.2 L1229.9,1375.6 L1261.2,1497.0 L1292.5,1558.3 L1323.8,1590.9 L1355.1,1604.6 L1386.4,1607.0 L1417.7,1608.4 L1449.0,1609.8" fill="none" stroke="#00a23c" stroke-width="2.60" stroke-linejoin="round"/>
<circle cx="196.8" cy="1614.7" r="11.6" fill="#008000" stroke="none" stroke-width="0.0"/>
<circle cx="259.4" cy="1511.9" r="11.6" fill="#008000" stroke="none" stroke-width="0.0"/>
<circle cx="322.0" cy="1331.9" r="11.6" fill="#008000" stroke="none" stroke-width="0.0"/>
<circle cx="384.6" cy="1245.3" r="11.6" fill="#008000" stroke="none" stroke-width="0.0"/>
<circle cx="447.2" cy="1238.5" r="11.6" fill="#008000" stroke="none" stroke-width="0.0"/>
<circle cx="509.9" cy="1204.3" r="11.6" fill="#008000" stroke="none" stroke-width="0.0"/>
<circle cx="572.5" cy="1104.7" r="11.6" fill="#008000" stroke="none" stroke-width="0.0"/>
<circle cx="635.1" cy="997.0" r="11.6" fill="#008000" stroke="none" stroke-width="0.0"/>
<circle cx="697.7" cy="945.2" r="11.6" fill="#008000" stroke="none" stroke-width="0.0"/>
<circle cx="760.3" cy="931.0" r="11.6" fill="#008000" stroke="none" stroke-width="0.0"/>
<circle cx="822.9" cy="917.3" r="11.6" fill="#008000" stroke="none" stroke-width="0.0"/>
<circle cx="885.5" cy="905.3" r="11.6" fill="#008000" stroke="none" stroke-width="0.0"/>
<circle cx="948.1" cy="915.0" r="11.6" fill="#008000" stroke="none" stroke-width="0.0"/>
<circle cx="1010.7" cy="944.6" r="11.6" fill="#008000" stroke="none" stroke-width="0.0"/>
<circle cx="1073.3" cy="1031.8" r="11.6" fill="#008000" stroke="none" stroke-width="0.0"/>
<circle cx="1136.0" cy="1069.9" r="11.6" fill="#008000" stroke="none" stroke-width="0.0"/>
<circle cx="1198.6" cy="1252.2" r="11.6" fill="#008000" stroke="none" stroke-width="0.0"/>
<circle cx="1261.2" cy="1497.0" r="11.6" fill="#008000" stroke="none" stroke-width="0.0"/>
<circle cx="1323.8" cy="1590.9" r="11.6" fill="#008000" stroke="none" stroke-width="0.0"/>
<circle cx="1386.4" cy="1607.0" r="11.6" fill="#008000" stroke="none" stroke-width="0.0"/>
<circle cx="1449.0" cy="1609.8" r="11.6" fill="#008000" stroke="none" stroke-width="0.0"/>
</g>
<g clip-path="url(#cp2)">
<path d="M196.8,2413.2 C202.0,2406.6 217.7,2387.8 228.1,2373.4 C238.5,2359.0 249.0,2347.8 259.4,2326.7 C269.8,2305.6 280.3,2271.6 290.7,2247.0 C301.2,2222.3 311.6,2198.0 322.0,2178.6 C332.5,2159.2 342.9,2143.3 353.3,2130.8 C363.8,2118.2 374.2,2110.3 384.6,2103.4 C395.1,2096.6 405.5,2091.3 415.9,2089.8 C426.4,2088.2 436.8,2093.4 447.2,2094.3 C457.7,2095.3 468.1,2097.7 478.5,2095.5 C489.0,2093.2 499.4,2088.6 509.9,2080.7 C520.3,2072.7 530.7,2060.7 541.2,2047.6 C551.6,2034.5 562.0,2017.8 572.5,2002.1 C582.9,1986.3 593.3,1968.3 603.8,1953.1 C614.2,1937.9 624.6,1923.5 635.1,1910.9 C645.5,1898.4 655.9,1887.4 666.4,1877.9 C676.8,1868.4 687.2,1860.3 697.7,1854.0 C708.1,1847.7 718.5,1844.3 729.0,1840.3 C739.4,1836.3 749.9,1832.9 760.3,1830.1 C770.7,1827.2 781.2,1825.1 791.6,1823.2 C802.0,1821.3 812.5,1819.9 822.9,1818.7 C833.3,1817.5 843.8,1815.8 854.2,1815.8 C864.6,1815.8 875.1,1817.1 885.5,1818.7 C895.9,1820.3 906.4,1822.5 916.8,1825.5 C927.3,1828.6 937.7,1832.9 948.1,1836.9 C958.6,1840.9 974.2,1847.4 979.4,1849.4 C984.6,1853.0 1000.3,1859.9 1010.7,1871.1 C1021.2,1882.3 1031.6,1900.7 1042.0,1916.6 C1052.5,1932.6 1068.1,1958.4 1073.3,1966.8 C1078.6,1970.2 1094.2,1981.8 1104.6,1987.3 C1115.1,1992.8 1130.7,1997.7 1136.0,1999.8 C1141.2,2009.1 1156.8,2031.1 1167.3,2055.6 C1177.7,2080.1 1188.1,2114.4 1198.6,2146.7 C1209.0,2179.0 1219.4,2219.0 1229.9,2249.2 C1240.3,2279.4 1250.7,2306.9 1261.2,2327.8 C1271.6,2348.7 1282.0,2363.7 1292.5,2374.5 C1302.9,2385.3 1313.3,2388.2 1323.8,2392.7 C1334.2,2397.3 1344.7,2399.8 1355.1,2401.9 C1365.5,2403.9 1376.0,2404.3 1386.4,2405.3 C1396.8,2406.2 1407.3,2407.0 1417.7,2407.5 C1428.1,2408.1 1443.8,2408.5 1449.0,2408.7" fill="none" stroke="#2b2b2b" stroke-width="2.50" stroke-linejoin="round"/>
<path d="M196.8,2414.4 C202.0,2409.4 217.7,2396.5 228.1,2384.8 C238.5,2373.0 249.0,2359.7 259.4,2343.8 C269.8,2327.8 280.3,2305.2 290.7,2289.1 C301.2,2273.0 311.6,2259.3 322.0,2247.0 C332.5,2234.6 342.9,2223.6 353.3,2215.1 C363.8,2206.5 374.2,2201.0 384.6,2195.7 C395.1,2190.4 405.5,2184.7 415.9,2183.2 C426.4,2181.6 436.8,2185.4 447.2,2186.6 C457.7,2187.7 468.1,2190.4 478.5,2190.0 C489.0,2189.6 499.4,2187.9 509.9,2184.3 C520.3,2180.7 530.7,2174.6 541.2,2168.4 C551.6,2162.1 562.0,2154.3 572.5,2146.7 C582.9,2139.1 593.3,2130.4 603.8,2122.8 C614.2,2115.2 624.6,2107.8 635.1,2101.2 C645.5,2094.5 655.9,2088.2 666.4,2082.9 C676.8,2077.6 687.2,2072.9 697.7,2069.3 C708.1,2065.7 718.5,2064.1 729.0,2061.3 C739.4,2058.4 749.9,2054.5 760.3,2052.2 C770.7,2049.9 781.2,2048.6 791.6,2047.6 C802.0,2046.7 812.5,2045.5 822.9,2046.5 C833.3,2047.4 843.8,2051.0 854.2,2053.3 C864.6,2055.6 875.1,2056.7 885.5,2060.2 C895.9,2063.6 906.4,2069.1 916.8,2073.8 C927.3,2078.6 937.7,2083.1 948.1,2088.6 C958.6,2094.1 969.0,2100.0 979.4,2106.9 C989.9,2113.7 1000.3,2120.7 1010.7,2129.6 C1021.2,2138.6 1031.6,2150.3 1042.0,2160.4 C1052.5,2170.4 1062.9,2180.5 1073.3,2190.0 C1083.8,2199.5 1094.2,2208.4 1104.6,2217.3 C1115.1,2226.3 1125.5,2233.3 1136.0,2243.5 C1146.4,2253.8 1156.8,2266.7 1167.3,2278.8 C1177.7,2291.0 1188.1,2304.7 1198.6,2316.4 C1209.0,2328.2 1219.4,2339.6 1229.9,2349.5 C1240.3,2359.3 1250.7,2368.3 1261.2,2375.7 C1271.6,2383.1 1282.0,2389.7 1292.5,2393.9 C1302.9,2398.1 1313.3,2398.8 1323.8,2400.7 C1334.2,2402.6 1344.7,2404.1 1355.1,2405.3 C1365.5,2406.4 1376.0,2407.0 1386.4,2407.5 C1396.8,2408.1 1407.3,2408.5 1417.7,2408.7 C1428.1,2408.9 1443.8,2408.7 1449.0,2408.7" fill="none" stroke="#2b2b2b" stroke-width="2.80" stroke-dasharray="12.5,10" stroke-linejoin="round"/>
<path d="M196.8,2413.2 L228.1,2375.7 L259.4,2338.1 L290.7,2267.4 L322.0,2198.0 L353.3,2157.8 L384.6,2133.1 L415.9,2120.8 L447.2,2117.1 L478.5,2120.8 L509.9,2120.5 L541.2,2101.0 L572.5,2072.7 L603.8,2039.6 L635.1,2005.5 L666.4,1974.7 L697.7,1949.7 L729.0,1935.9 L760.3,1928.6 L791.6,1924.5 L822.9,1924.6 L854.2,1928.6 L885.5,1937.1 L916.8,1951.6 L948.1,1970.2 L979.4,1990.0 L1010.7,2015.7 L1042.0,2054.4 L1073.3,2095.5 L1104.6,2126.4 L1136.0,2160.4 L1167.3,2210.4 L1198.6,2264.0 L1229.9,2315.5 L1261.2,2358.6 L1292.5,2382.2 L1323.8,2395.0 L1355.1,2401.1 L1386.4,2403.0 L1417.7,2404.7 L1449.0,2406.4" fill="none" stroke="#0000ff" stroke-width="2.20" stroke-dasharray="13,8" stroke-linejoin="round"/>
<polygon points="196.8,2401.8 210.2,2424.6 183.4,2424.6" fill="#fff" stroke="#0000ff" stroke-width="2.2" stroke-linejoin="miter"/>
<polygon points="259.4,2326.7 272.9,2349.5 246.0,2349.5" fill="#fff" stroke="#0000ff" stroke-width="2.2" stroke-linejoin="miter"/>
<polygon points="322.0,2186.6 335.5,2209.4 308.6,2209.4" fill="#fff" stroke="#0000ff" stroke-width="2.2" stroke-linejoin="miter"/>
<polygon points="384.6,2121.7 398.1,2144.5 371.2,2144.5" fill="#fff" stroke="#0000ff" stroke-width="2.2" stroke-linejoin="miter"/>
<polygon points="447.2,2105.7 460.7,2128.5 433.8,2128.5" fill="#fff" stroke="#0000ff" stroke-width="2.2" stroke-linejoin="miter"/>
<polygon points="509.9,2109.1 523.3,2131.9 496.4,2131.9" fill="#fff" stroke="#0000ff" stroke-width="2.2" stroke-linejoin="miter"/>
<polygon points="572.5,2061.3 585.9,2084.1 559.0,2084.1" fill="#fff" stroke="#0000ff" stroke-width="2.2" stroke-linejoin="miter"/>
<polygon points="635.1,1994.1 648.5,2016.9 621.6,2016.9" fill="#fff" stroke="#0000ff" stroke-width="2.2" stroke-linejoin="miter"/>
<polygon points="697.7,1938.3 711.1,1961.1 684.2,1961.1" fill="#fff" stroke="#0000ff" stroke-width="2.2" stroke-linejoin="miter"/>
<polygon points="760.3,1917.2 773.7,1940.0 746.8,1940.0" fill="#fff" stroke="#0000ff" stroke-width="2.2" stroke-linejoin="miter"/>
<polygon points="822.9,1913.2 836.3,1936.0 809.5,1936.0" fill="#fff" stroke="#0000ff" stroke-width="2.2" stroke-linejoin="miter"/>
<polygon points="885.5,1925.7 899.0,1948.5 872.1,1948.5" fill="#fff" stroke="#0000ff" stroke-width="2.2" stroke-linejoin="miter"/>
<polygon points="948.1,1958.8 961.6,1981.6 934.7,1981.6" fill="#fff" stroke="#0000ff" stroke-width="2.2" stroke-linejoin="miter"/>
<polygon points="1010.7,2004.3 1024.2,2027.1 997.3,2027.1" fill="#fff" stroke="#0000ff" stroke-width="2.2" stroke-linejoin="miter"/>
<polygon points="1073.3,2084.1 1086.8,2106.9 1059.9,2106.9" fill="#fff" stroke="#0000ff" stroke-width="2.2" stroke-linejoin="miter"/>
<polygon points="1136.0,2149.0 1149.4,2171.8 1122.5,2171.8" fill="#fff" stroke="#0000ff" stroke-width="2.2" stroke-linejoin="miter"/>
<polygon points="1198.6,2252.6 1212.0,2275.4 1185.1,2275.4" fill="#fff" stroke="#0000ff" stroke-width="2.2" stroke-linejoin="miter"/>
<polygon points="1261.2,2347.2 1274.6,2370.0 1247.7,2370.0" fill="#fff" stroke="#0000ff" stroke-width="2.2" stroke-linejoin="miter"/>
<polygon points="1323.8,2383.6 1337.2,2406.4 1310.3,2406.4" fill="#fff" stroke="#0000ff" stroke-width="2.2" stroke-linejoin="miter"/>
<polygon points="1386.4,2391.6 1399.8,2414.4 1372.9,2414.4" fill="#fff" stroke="#0000ff" stroke-width="2.2" stroke-linejoin="miter"/>
<polygon points="1449.0,2395.0 1462.4,2417.8 1435.6,2417.8" fill="#fff" stroke="#0000ff" stroke-width="2.2" stroke-linejoin="miter"/>
<path d="M196.8,2412.1 L228.1,2373.9 L259.4,2335.8 L290.7,2252.6 L322.0,2172.9 L353.3,2137.7 L384.6,2123.9 L415.9,2125.9 L447.2,2131.9 L478.5,2128.2 L509.9,2114.8 L541.2,2083.8 L572.5,2045.3 L603.8,2005.8 L635.1,1969.0 L666.4,1941.9 L697.7,1922.3 L729.0,1911.3 L760.3,1906.4 L791.6,1905.6 L822.9,1908.7 L854.2,1914.1 L885.5,1923.5 L916.8,1938.4 L948.1,1957.6 L979.4,1979.0 L1010.7,2006.6 L1042.0,2048.1 L1073.3,2091.5 L1104.6,2122.4 L1136.0,2155.8 L1167.3,2206.3 L1198.6,2260.6 L1229.9,2312.3 L1261.2,2355.7 L1292.5,2380.9 L1323.8,2395.0 L1355.1,2400.6 L1386.4,2401.9 L1417.7,2404.1 L1449.0,2406.4" fill="none" stroke="#0000ff" stroke-width="2.40" stroke-dasharray="13,8" stroke-linejoin="round"/>
<polygon points="196.8,2399.8 211.4,2424.5 182.2,2424.5" fill="#0000ff" stroke="none" stroke-width="0.0" stroke-linejoin="miter"/>
<polygon points="259.4,2323.4 274.0,2348.1 244.9,2348.1" fill="#0000ff" stroke="none" stroke-width="0.0" stroke-linejoin="miter"/>
<polygon points="322.0,2160.6 336.6,2185.3 307.5,2185.3" fill="#0000ff" stroke="none" stroke-width="0.0" stroke-linejoin="miter"/>
<polygon points="384.6,2111.6 399.2,2136.3 370.1,2136.3" fill="#0000ff" stroke="none" stroke-width="0.0" stroke-linejoin="miter"/>
<polygon points="447.2,2119.6 461.8,2144.3 432.7,2144.3" fill="#0000ff" stroke="none" stroke-width="0.0" stroke-linejoin="miter"/>
<polygon points="509.9,2102.5 524.4,2127.2 495.3,2127.2" fill="#0000ff" stroke="none" stroke-width="0.0" stroke-linejoin="miter"/>
<polygon points="572.5,2033.0 587.0,2057.7 557.9,2057.7" fill="#0000ff" stroke="none" stroke-width="0.0" stroke-linejoin="miter"/>
<polygon points="635.1,1956.7 649.6,1981.4 620.5,1981.4" fill="#0000ff" stroke="none" stroke-width="0.0" stroke-linejoin="miter"/>
<polygon points="697.7,1910.0 712.2,1934.7 683.1,1934.7" fill="#0000ff" stroke="none" stroke-width="0.0" stroke-linejoin="miter"/>
<polygon points="760.3,1894.0 774.8,1918.7 745.7,1918.7" fill="#0000ff" stroke="none" stroke-width="0.0" stroke-linejoin="miter"/>
<polygon points="822.9,1896.3 837.5,1921.0 808.3,1921.0" fill="#0000ff" stroke="none" stroke-width="0.0" stroke-linejoin="miter"/>
<polygon points="885.5,1911.1 900.1,1935.8 871.0,1935.8" fill="#0000ff" stroke="none" stroke-width="0.0" stroke-linejoin="miter"/>
<polygon points="948.1,1945.3 962.7,1970.0 933.6,1970.0" fill="#0000ff" stroke="none" stroke-width="0.0" stroke-linejoin="miter"/>
<polygon points="1010.7,1994.3 1025.3,2019.0 996.2,2019.0" fill="#0000ff" stroke="none" stroke-width="0.0" stroke-linejoin="miter"/>
<polygon points="1073.3,2079.1 1087.9,2103.8 1058.8,2103.8" fill="#0000ff" stroke="none" stroke-width="0.0" stroke-linejoin="miter"/>
<polygon points="1136.0,2143.5 1150.5,2168.2 1121.4,2168.2" fill="#0000ff" stroke="none" stroke-width="0.0" stroke-linejoin="miter"/>
<polygon points="1198.6,2248.3 1213.1,2273.0 1184.0,2273.0" fill="#0000ff" stroke="none" stroke-width="0.0" stroke-linejoin="miter"/>
<polygon points="1261.2,2343.4 1275.7,2368.1 1246.6,2368.1" fill="#0000ff" stroke="none" stroke-width="0.0" stroke-linejoin="miter"/>
<polygon points="1323.8,2382.7 1338.3,2407.4 1309.2,2407.4" fill="#0000ff" stroke="none" stroke-width="0.0" stroke-linejoin="miter"/>
<polygon points="1386.4,2389.5 1400.9,2414.2 1371.8,2414.2" fill="#0000ff" stroke="none" stroke-width="0.0" stroke-linejoin="miter"/>
<polygon points="1449.0,2394.1 1463.6,2418.8 1434.4,2418.8" fill="#0000ff" stroke="none" stroke-width="0.0" stroke-linejoin="miter"/>
<path d="M196.8,2412.1 L228.1,2370.5 L259.4,2329.0 L290.7,2253.8 L322.0,2179.7 L353.3,2134.5 L384.6,2105.7 L415.9,2092.9 L447.2,2087.5 L478.5,2083.0 L509.9,2072.7 L541.2,2045.5 L572.5,2008.3 L603.8,1961.5 L635.1,1914.4 L666.4,1876.9 L697.7,1848.3 L729.0,1833.4 L760.3,1825.5 L791.6,1819.3 L822.9,1815.3 L854.2,1810.9 L885.5,1809.6 L916.8,1814.6 L948.1,1823.2 L979.4,1830.8 L1010.7,1847.2 L1042.0,1889.1 L1073.3,1930.9 L1104.6,1954.2 L1136.0,1958.8 L1167.3,2017.1 L1198.6,2101.2 L1229.9,2210.4 L1261.2,2311.9 L1292.5,2364.8 L1323.8,2392.7 L1355.1,2402.7 L1386.4,2403.0 L1417.7,2404.7 L1449.0,2406.4" fill="none" stroke="#0000ff" stroke-width="2.20" stroke-linejoin="round"/>
<polygon points="196.8,2400.7 210.2,2423.5 183.4,2423.5" fill="#fff" stroke="#0000ff" stroke-width="2.2" stroke-linejoin="miter"/>
<polygon points="259.4,2317.6 272.9,2340.4 246.0,2340.4" fill="#fff" stroke="#0000ff" stroke-width="2.2" stroke-linejoin="miter"/>
<polygon points="322.0,2168.3 335.5,2191.1 308.6,2191.1" fill="#fff" stroke="#0000ff" stroke-width="2.2" stroke-linejoin="miter"/>
<polygon points="384.6,2094.3 398.1,2117.1 371.2,2117.1" fill="#fff" stroke="#0000ff" stroke-width="2.2" stroke-linejoin="miter"/>
<polygon points="447.2,2076.1 460.7,2098.9 433.8,2098.9" fill="#fff" stroke="#0000ff" stroke-width="2.2" stroke-linejoin="miter"/>
<polygon points="509.9,2061.3 523.3,2084.1 496.4,2084.1" fill="#fff" stroke="#0000ff" stroke-width="2.2" stroke-linejoin="miter"/>
<polygon points="572.5,1996.9 585.9,2019.7 559.0,2019.7" fill="#fff" stroke="#0000ff" stroke-width="2.2" stroke-linejoin="miter"/>
<polygon points="635.1,1903.0 648.5,1925.8 621.6,1925.8" fill="#fff" stroke="#0000ff" stroke-width="2.2" stroke-linejoin="miter"/>
<polygon points="697.7,1836.9 711.1,1859.7 684.2,1859.7" fill="#fff" stroke="#0000ff" stroke-width="2.2" stroke-linejoin="miter"/>
<polygon points="760.3,1814.1 773.7,1836.9 746.8,1836.9" fill="#fff" stroke="#0000ff" stroke-width="2.2" stroke-linejoin="miter"/>
<polygon points="822.9,1803.9 836.3,1826.7 809.5,1826.7" fill="#fff" stroke="#0000ff" stroke-width="2.2" stroke-linejoin="miter"/>
<polygon points="885.5,1798.2 899.0,1821.0 872.1,1821.0" fill="#fff" stroke="#0000ff" stroke-width="2.2" stroke-linejoin="miter"/>
<polygon points="948.1,1811.8 961.6,1834.6 934.7,1834.6" fill="#fff" stroke="#0000ff" stroke-width="2.2" stroke-linejoin="miter"/>
<polygon points="1010.7,1835.8 1024.2,1858.6 997.3,1858.6" fill="#fff" stroke="#0000ff" stroke-width="2.2" stroke-linejoin="miter"/>
<polygon points="1073.3,1919.5 1086.8,1942.3 1059.9,1942.3" fill="#fff" stroke="#0000ff" stroke-width="2.2" stroke-linejoin="miter"/>
<polygon points="1136.0,1947.4 1149.4,1970.2 1122.5,1970.2" fill="#fff" stroke="#0000ff" stroke-width="2.2" stroke-linejoin="miter"/>
<polygon points="1198.6,2089.8 1212.0,2112.6 1185.1,2112.6" fill="#fff" stroke="#0000ff" stroke-width="2.2" stroke-linejoin="miter"/>
<polygon points="1261.2,2300.5 1274.6,2323.3 1247.7,2323.3" fill="#fff" stroke="#0000ff" stroke-width="2.2" stroke-linejoin="miter"/>
<polygon points="1323.8,2381.3 1337.2,2404.1 1310.3,2404.1" fill="#fff" stroke="#0000ff" stroke-width="2.2" stroke-linejoin="miter"/>
<polygon points="1386.4,2391.6 1399.8,2414.4 1372.9,2414.4" fill="#fff" stroke="#0000ff" stroke-width="2.2" stroke-linejoin="miter"/>
<polygon points="1449.0,2395.0 1462.4,2417.8 1435.6,2417.8" fill="#fff" stroke="#0000ff" stroke-width="2.2" stroke-linejoin="miter"/>
<path d="M196.8,2411.0 L228.1,2362.0 L259.4,2313.0 L290.7,2223.5 L322.0,2138.7 L353.3,2098.4 L384.6,2079.5 L415.9,2074.7 L447.2,2076.3 L478.5,2069.3 L509.9,2036.2 L541.2,1990.2 L572.5,1937.1 L603.8,1888.9 L635.1,1848.3 L666.4,1824.9 L697.7,1810.7 L729.0,1802.1 L760.3,1795.9 L791.6,1787.0 L822.9,1778.3 L854.2,1770.0 L885.5,1765.2 L916.8,1767.3 L948.1,1774.3 L979.4,1782.2 L1010.7,1799.3 L1042.0,1841.0 L1073.3,1882.5 L1104.6,1906.4 L1136.0,1916.6 L1167.3,1985.6 L1198.6,2080.7 L1229.9,2194.6 L1261.2,2299.3 L1292.5,2357.9 L1323.8,2390.5 L1355.1,2401.2 L1386.4,2401.3 L1417.7,2403.8 L1449.0,2406.4" fill="none" stroke="#0000ff" stroke-width="2.40" stroke-linejoin="round"/>
<polygon points="196.8,2398.6 211.4,2423.3 182.2,2423.3" fill="#0000ff" stroke="none" stroke-width="0.0" stroke-linejoin="miter"/>
<polygon points="259.4,2300.7 274.0,2325.4 244.9,2325.4" fill="#0000ff" stroke="none" stroke-width="0.0" stroke-linejoin="miter"/>
<polygon points="322.0,2126.4 336.6,2151.1 307.5,2151.1" fill="#0000ff" stroke="none" stroke-width="0.0" stroke-linejoin="miter"/>
<polygon points="384.6,2067.2 399.2,2091.9 370.1,2091.9" fill="#0000ff" stroke="none" stroke-width="0.0" stroke-linejoin="miter"/>
<polygon points="447.2,2064.0 461.8,2088.7 432.7,2088.7" fill="#0000ff" stroke="none" stroke-width="0.0" stroke-linejoin="miter"/>
<polygon points="509.9,2023.9 524.4,2048.6 495.3,2048.6" fill="#0000ff" stroke="none" stroke-width="0.0" stroke-linejoin="miter"/>
<polygon points="572.5,1924.8 587.0,1949.5 557.9,1949.5" fill="#0000ff" stroke="none" stroke-width="0.0" stroke-linejoin="miter"/>
<polygon points="635.1,1836.0 649.6,1860.7 620.5,1860.7" fill="#0000ff" stroke="none" stroke-width="0.0" stroke-linejoin="miter"/>
<polygon points="697.7,1798.4 712.2,1823.1 683.1,1823.1" fill="#0000ff" stroke="none" stroke-width="0.0" stroke-linejoin="miter"/>
<polygon points="760.3,1783.6 774.8,1808.3 745.7,1808.3" fill="#0000ff" stroke="none" stroke-width="0.0" stroke-linejoin="miter"/>
<polygon points="822.9,1765.9 837.5,1790.6 808.3,1790.6" fill="#0000ff" stroke="none" stroke-width="0.0" stroke-linejoin="miter"/>
<polygon points="885.5,1752.8 900.1,1777.5 871.0,1777.5" fill="#0000ff" stroke="none" stroke-width="0.0" stroke-linejoin="miter"/>
<polygon points="948.1,1761.9 962.7,1786.6 933.6,1786.6" fill="#0000ff" stroke="none" stroke-width="0.0" stroke-linejoin="miter"/>
<polygon points="1010.7,1787.0 1025.3,1811.7 996.2,1811.7" fill="#0000ff" stroke="none" stroke-width="0.0" stroke-linejoin="miter"/>
<polygon points="1073.3,1870.1 1087.9,1894.8 1058.8,1894.8" fill="#0000ff" stroke="none" stroke-width="0.0" stroke-linejoin="miter"/>
<polygon points="1136.0,1904.3 1150.5,1929.0 1121.4,1929.0" fill="#0000ff" stroke="none" stroke-width="0.0" stroke-linejoin="miter"/>
<polygon points="1198.6,2068.3 1213.1,2093.0 1184.0,2093.0" fill="#0000ff" stroke="none" stroke-width="0.0" stroke-linejoin="miter"/>
<polygon points="1261.2,2287.0 1275.7,2311.7 1246.6,2311.7" fill="#0000ff" stroke="none" stroke-width="0.0" stroke-linejoin="miter"/>
<polygon points="1323.8,2378.1 1338.3,2402.8 1309.2,2402.8" fill="#0000ff" stroke="none" stroke-width="0.0" stroke-linejoin="miter"/>
<polygon points="1386.4,2388.9 1400.9,2413.6 1371.8,2413.6" fill="#0000ff" stroke="none" stroke-width="0.0" stroke-linejoin="miter"/>
<polygon points="1449.0,2394.1 1463.6,2418.8 1434.4,2418.8" fill="#0000ff" stroke="none" stroke-width="0.0" stroke-linejoin="miter"/>
</g>
<line x1="176.3" y1="823.9" x2="196.8" y2="823.9" stroke="#1a1a1a" stroke-width="3"/>
<text x="0" y="0" font-size="47.50" font-family="&apos;Liberation Sans&apos;, sans-serif" fill="#000" text-anchor="middle" transform="translate(149.10,839.50) scale(0.870,1)">0</text>
<line x1="187.3" y1="766.9" x2="196.8" y2="766.9" stroke="#1a1a1a" stroke-width="3"/>
<line x1="176.3" y1="710.0" x2="196.8" y2="710.0" stroke="#1a1a1a" stroke-width="3"/>
<path d="M763,0H583V1147Q518,1085 412.5,1023T223,930V1104Q373,1175 485.5,1276T645,1472H763Z" fill="#000" transform="translate(109.48,725.60) scale(0.02319,-0.02319)"/>
<text x="0" y="0" font-size="47.50" font-family="&apos;Liberation Sans&apos;, sans-serif" fill="#000" text-anchor="middle" transform="translate(149.10,725.60) scale(0.870,1)">0</text>
<line x1="187.3" y1="653.0" x2="196.8" y2="653.0" stroke="#1a1a1a" stroke-width="3"/>
<line x1="176.3" y1="596.1" x2="196.8" y2="596.1" stroke="#1a1a1a" stroke-width="3"/>
<text x="0" y="0" font-size="47.50" font-family="&apos;Liberation Sans&apos;, sans-serif" fill="#000" text-anchor="middle" transform="translate(122.69,611.70) scale(0.920,1)">2</text>
<text x="0" y="0" font-size="47.50" font-family="&apos;Liberation Sans&apos;, sans-serif" fill="#000" text-anchor="middle" transform="translate(149.10,611.70) scale(0.870,1)">0</text>
<line x1="187.3" y1="539.1" x2="196.8" y2="539.1" stroke="#1a1a1a" stroke-width="3"/>
<line x1="176.3" y1="482.2" x2="196.8" y2="482.2" stroke="#1a1a1a" stroke-width="3"/>
<text x="0" y="0" font-size="47.50" font-family="&apos;Liberation Sans&apos;, sans-serif" fill="#000" text-anchor="middle" transform="translate(122.69,497.80) scale(0.900,1)">3</text>
<text x="0" y="0" font-size="47.50" font-family="&apos;Liberation Sans&apos;, sans-serif" fill="#000" text-anchor="middle" transform="translate(149.10,497.80) scale(0.870,1)">0</text>
<line x1="187.3" y1="425.2" x2="196.8" y2="425.2" stroke="#1a1a1a" stroke-width="3"/>
<line x1="176.3" y1="368.3" x2="196.8" y2="368.3" stroke="#1a1a1a" stroke-width="3"/>
<text x="0" y="0" font-size="47.50" font-family="&apos;Liberation Sans&apos;, sans-serif" fill="#000" text-anchor="middle" transform="translate(122.69,383.90) scale(1.000,1)">4</text>
<text x="0" y="0" font-size="47.50" font-family="&apos;Liberation Sans&apos;, sans-serif" fill="#000" text-anchor="middle" transform="translate(149.10,383.90) scale(0.870,1)">0</text>
<line x1="187.3" y1="311.3" x2="196.8" y2="311.3" stroke="#1a1a1a" stroke-width="3"/>
<line x1="176.3" y1="254.4" x2="196.8" y2="254.4" stroke="#1a1a1a" stroke-width="3"/>
<text x="0" y="0" font-size="47.50" font-family="&apos;Liberation Sans&apos;, sans-serif" fill="#000" text-anchor="middle" transform="translate(122.69,270.00) scale(0.920,1)">5</text>
<text x="0" y="0" font-size="47.50" font-family="&apos;Liberation Sans&apos;, sans-serif" fill="#000" text-anchor="middle" transform="translate(149.10,270.00) scale(0.870,1)">0</text>
<line x1="187.3" y1="197.4" x2="196.8" y2="197.4" stroke="#1a1a1a" stroke-width="3"/>
<line x1="176.3" y1="140.5" x2="196.8" y2="140.5" stroke="#1a1a1a" stroke-width="3"/>
<text x="0" y="0" font-size="47.50" font-family="&apos;Liberation Sans&apos;, sans-serif" fill="#000" text-anchor="middle" transform="translate(122.69,156.10) scale(0.880,1)">6</text>
<text x="0" y="0" font-size="47.50" font-family="&apos;Liberation Sans&apos;, sans-serif" fill="#000" text-anchor="middle" transform="translate(149.10,156.10) scale(0.870,1)">0</text>
<line x1="187.3" y1="83.5" x2="196.8" y2="83.5" stroke="#1a1a1a" stroke-width="3"/>
<line x1="196.8" y1="823.9" x2="196.8" y2="843.9" stroke="#1a1a1a" stroke-width="3.2"/>
<line x1="353.3" y1="823.9" x2="353.3" y2="833.4" stroke="#1a1a1a" stroke-width="3.2"/>
<line x1="509.9" y1="823.9" x2="509.9" y2="843.9" stroke="#1a1a1a" stroke-width="3.2"/>
<line x1="666.4" y1="823.9" x2="666.4" y2="833.4" stroke="#1a1a1a" stroke-width="3.2"/>
<line x1="822.9" y1="823.9" x2="822.9" y2="843.9" stroke="#1a1a1a" stroke-width="3.2"/>
<line x1="979.4" y1="823.9" x2="979.4" y2="833.4" stroke="#1a1a1a" stroke-width="3.2"/>
<line x1="1136.0" y1="823.9" x2="1136.0" y2="843.9" stroke="#1a1a1a" stroke-width="3.2"/>
<line x1="1292.5" y1="823.9" x2="1292.5" y2="833.4" stroke="#1a1a1a" stroke-width="3.2"/>
<line x1="1449.0" y1="823.9" x2="1449.0" y2="843.9" stroke="#1a1a1a" stroke-width="3.2"/>
<line x1="176.3" y1="1621.2" x2="196.8" y2="1621.2" stroke="#1a1a1a" stroke-width="3"/>
<text x="0" y="0" font-size="47.50" font-family="&apos;Liberation Sans&apos;, sans-serif" fill="#000" text-anchor="middle" transform="translate(149.10,1636.80) scale(0.870,1)">0</text>
<line x1="187.3" y1="1564.2" x2="196.8" y2="1564.2" stroke="#1a1a1a" stroke-width="3"/>
<line x1="176.3" y1="1507.3" x2="196.8" y2="1507.3" stroke="#1a1a1a" stroke-width="3"/>
<path d="M763,0H583V1147Q518,1085 412.5,1023T223,930V1104Q373,1175 485.5,1276T645,1472H763Z" fill="#000" transform="translate(109.48,1522.90) scale(0.02319,-0.02319)"/>
<text x="0" y="0" font-size="47.50" font-family="&apos;Liberation Sans&apos;, sans-serif" fill="#000" text-anchor="middle" transform="translate(149.10,1522.90) scale(0.870,1)">0</text>
<line x1="187.3" y1="1450.3" x2="196.8" y2="1450.3" stroke="#1a1a1a" stroke-width="3"/>
<line x1="176.3" y1="1393.4" x2="196.8" y2="1393.4" stroke="#1a1a1a" stroke-width="3"/>
<text x="0" y="0" font-size="47.50" font-family="&apos;Liberation Sans&apos;, sans-serif" fill="#000" text-anchor="middle" transform="translate(122.69,1409.00) scale(0.920,1)">2</text>
<text x="0" y="0" font-size="47.50" font-family="&apos;Liberation Sans&apos;, sans-serif" fill="#000" text-anchor="middle" transform="translate(149.10,1409.00) scale(0.870,1)">0</text>
<line x1="187.3" y1="1336.5" x2="196.8" y2="1336.5" stroke="#1a1a1a" stroke-width="3"/>
<line x1="176.3" y1="1279.5" x2="196.8" y2="1279.5" stroke="#1a1a1a" stroke-width="3"/>
<text x="0" y="0" font-size="47.50" font-family="&apos;Liberation Sans&apos;, sans-serif" fill="#000" text-anchor="middle" transform="translate(122.69,1295.10) scale(0.900,1)">3</text>
<text x="0" y="0" font-size="47.50" font-family="&apos;Liberation Sans&apos;, sans-serif" fill="#000" text-anchor="middle" transform="translate(149.10,1295.10) scale(0.870,1)">0</text>
<line x1="187.3" y1="1222.5" x2="196.8" y2="1222.5" stroke="#1a1a1a" stroke-width="3"/>
<line x1="176.3" y1="1165.6" x2="196.8" y2="1165.6" stroke="#1a1a1a" stroke-width="3"/>
<text x="0" y="0" font-size="47.50" font-family="&apos;Liberation Sans&apos;, sans-serif" fill="#000" text-anchor="middle" transform="translate(122.69,1181.20) scale(1.000,1)">4</text>
<text x="0" y="0" font-size="47.50" font-family="&apos;Liberation Sans&apos;, sans-serif" fill="#000" text-anchor="middle" transform="translate(149.10,1181.20) scale(0.870,1)">0</text>
<line x1="187.3" y1="1108.7" x2="196.8" y2="1108.7" stroke="#1a1a1a" stroke-width="3"/>
<line x1="176.3" y1="1051.7" x2="196.8" y2="1051.7" stroke="#1a1a1a" stroke-width="3"/>
<text x="0" y="0" font-size="47.50" font-family="&apos;Liberation Sans&apos;, sans-serif" fill="#000" text-anchor="middle" transform="translate(122.69,1067.30) scale(0.920,1)">5</text>
<text x="0" y="0" font-size="47.50" font-family="&apos;Liberation Sans&apos;, sans-serif" fill="#000" text-anchor="middle" transform="translate(149.10,1067.30) scale(0.870,1)">0</text>
<line x1="187.3" y1="994.8" x2="196.8" y2="994.8" stroke="#1a1a1a" stroke-width="3"/>
<line x1="176.3" y1="937.8" x2="196.8" y2="937.8" stroke="#1a1a1a" stroke-width="3"/>
<text x="0" y="0" font-size="47.50" font-family="&apos;Liberation Sans&apos;, sans-serif" fill="#000" text-anchor="middle" transform="translate(122.69,953.40) scale(0.880,1)">6</text>
<text x="0" y="0" font-size="47.50" font-family="&apos;Liberation Sans&apos;, sans-serif" fill="#000" text-anchor="middle" transform="translate(149.10,953.40) scale(0.870,1)">0</text>
<line x1="187.3" y1="880.9" x2="196.8" y2="880.9" stroke="#1a1a1a" stroke-width="3"/>
<line x1="196.8" y1="1621.2" x2="196.8" y2="1641.2" stroke="#1a1a1a" stroke-width="3.2"/>
<line x1="353.3" y1="1621.2" x2="353.3" y2="1630.7" stroke="#1a1a1a" stroke-width="3.2"/>
<line x1="509.9" y1="1621.2" x2="509.9" y2="1641.2" stroke="#1a1a1a" stroke-width="3.2"/>
<line x1="666.4" y1="1621.2" x2="666.4" y2="1630.7" stroke="#1a1a1a" stroke-width="3.2"/>
<line x1="822.9" y1="1621.2" x2="822.9" y2="1641.2" stroke="#1a1a1a" stroke-width="3.2"/>
<line x1="979.4" y1="1621.2" x2="979.4" y2="1630.7" stroke="#1a1a1a" stroke-width="3.2"/>
<line x1="1136.0" y1="1621.2" x2="1136.0" y2="1641.2" stroke="#1a1a1a" stroke-width="3.2"/>
<line x1="1292.5" y1="1621.2" x2="1292.5" y2="1630.7" stroke="#1a1a1a" stroke-width="3.2"/>
<line x1="1449.0" y1="1621.2" x2="1449.0" y2="1641.2" stroke="#1a1a1a" stroke-width="3.2"/>
<line x1="176.3" y1="2417.8" x2="196.8" y2="2417.8" stroke="#1a1a1a" stroke-width="3"/>
<text x="0" y="0" font-size="47.50" font-family="&apos;Liberation Sans&apos;, sans-serif" fill="#000" text-anchor="middle" transform="translate(149.10,2433.40) scale(0.870,1)">0</text>
<line x1="187.3" y1="2360.9" x2="196.8" y2="2360.9" stroke="#1a1a1a" stroke-width="3"/>
<line x1="176.3" y1="2303.9" x2="196.8" y2="2303.9" stroke="#1a1a1a" stroke-width="3"/>
<path d="M763,0H583V1147Q518,1085 412.5,1023T223,930V1104Q373,1175 485.5,1276T645,1472H763Z" fill="#000" transform="translate(109.48,2319.50) scale(0.02319,-0.02319)"/>
<text x="0" y="0" font-size="47.50" font-family="&apos;Liberation Sans&apos;, sans-serif" fill="#000" text-anchor="middle" transform="translate(149.10,2319.50) scale(0.870,1)">0</text>
<line x1="187.3" y1="2247.0" x2="196.8" y2="2247.0" stroke="#1a1a1a" stroke-width="3"/>
<line x1="176.3" y1="2190.0" x2="196.8" y2="2190.0" stroke="#1a1a1a" stroke-width="3"/>
<text x="0" y="0" font-size="47.50" font-family="&apos;Liberation Sans&apos;, sans-serif" fill="#000" text-anchor="middle" transform="translate(122.69,2205.60) scale(0.920,1)">2</text>
<text x="0" y="0" font-size="47.50" font-family="&apos;Liberation Sans&apos;, sans-serif" fill="#000" text-anchor="middle" transform="translate(149.10,2205.60) scale(0.870,1)">0</text>
<line x1="187.3" y1="2133.1" x2="196.8" y2="2133.1" stroke="#1a1a1a" stroke-width="3"/>
<line x1="176.3" y1="2076.1" x2="196.8" y2="2076.1" stroke="#1a1a1a" stroke-width="3"/>
<text x="0" y="0" font-size="47.50" font-family="&apos;Liberation Sans&apos;, sans-serif" fill="#000" text-anchor="middle" transform="translate(122.69,2091.70) scale(0.900,1)">3</text>
<text x="0" y="0" font-size="47.50" font-family="&apos;Liberation Sans&apos;, sans-serif" fill="#000" text-anchor="middle" transform="translate(149.10,2091.70) scale(0.870,1)">0</text>
<line x1="187.3" y1="2019.2" x2="196.8" y2="2019.2" stroke="#1a1a1a" stroke-width="3"/>
<line x1="176.3" y1="1962.2" x2="196.8" y2="1962.2" stroke="#1a1a1a" stroke-width="3"/>
<text x="0" y="0" font-size="47.50" font-family="&apos;Liberation Sans&apos;, sans-serif" fill="#000" text-anchor="middle" transform="translate(122.69,1977.80) scale(1.000,1)">4</text>
<text x="0" y="0" font-size="47.50" font-family="&apos;Liberation Sans&apos;, sans-serif" fill="#000" text-anchor="middle" transform="translate(149.10,1977.80) scale(0.870,1)">0</text>
<line x1="187.3" y1="1905.2" x2="196.8" y2="1905.2" stroke="#1a1a1a" stroke-width="3"/>
<line x1="176.3" y1="1848.3" x2="196.8" y2="1848.3" stroke="#1a1a1a" stroke-width="3"/>
<text x="0" y="0" font-size="47.50" font-family="&apos;Liberation Sans&apos;, sans-serif" fill="#000" text-anchor="middle" transform="translate(122.69,1863.90) scale(0.920,1)">5</text>
<text x="0" y="0" font-size="47.50" font-family="&apos;Liberation Sans&apos;, sans-serif" fill="#000" text-anchor="middle" transform="translate(149.10,1863.90) scale(0.870,1)">0</text>
<line x1="187.3" y1="1791.4" x2="196.8" y2="1791.4" stroke="#1a1a1a" stroke-width="3"/>
<line x1="176.3" y1="1734.4" x2="196.8" y2="1734.4" stroke="#1a1a1a" stroke-width="3"/>
<text x="0" y="0" font-size="47.50" font-family="&apos;Liberation Sans&apos;, sans-serif" fill="#000" text-anchor="middle" transform="translate(122.69,1750.00) scale(0.880,1)">6</text>
<text x="0" y="0" font-size="47.50" font-family="&apos;Liberation Sans&apos;, sans-serif" fill="#000" text-anchor="middle" transform="translate(149.10,1750.00) scale(0.870,1)">0</text>
<line x1="187.3" y1="1677.5" x2="196.8" y2="1677.5" stroke="#1a1a1a" stroke-width="3"/>
<line x1="196.8" y1="2417.8" x2="196.8" y2="2437.8" stroke="#1a1a1a" stroke-width="3.2"/>
<line x1="353.3" y1="2417.8" x2="353.3" y2="2427.3" stroke="#1a1a1a" stroke-width="3.2"/>
<line x1="509.9" y1="2417.8" x2="509.9" y2="2437.8" stroke="#1a1a1a" stroke-width="3.2"/>
<line x1="666.4" y1="2417.8" x2="666.4" y2="2427.3" stroke="#1a1a1a" stroke-width="3.2"/>
<line x1="822.9" y1="2417.8" x2="822.9" y2="2437.8" stroke="#1a1a1a" stroke-width="3.2"/>
<line x1="979.4" y1="2417.8" x2="979.4" y2="2427.3" stroke="#1a1a1a" stroke-width="3.2"/>
<line x1="1136.0" y1="2417.8" x2="1136.0" y2="2437.8" stroke="#1a1a1a" stroke-width="3.2"/>
<line x1="1292.5" y1="2417.8" x2="1292.5" y2="2427.3" stroke="#1a1a1a" stroke-width="3.2"/>
<line x1="1449.0" y1="2417.8" x2="1449.0" y2="2437.8" stroke="#1a1a1a" stroke-width="3.2"/>
<rect x="196.8" y="26.6" width="1252.2" height="2391.2" fill="none" stroke="#1a1a1a" stroke-width="3.6"/>
<line x1="196.8" y1="823.9" x2="1449.0" y2="823.9" stroke="#333" stroke-width="3.4"/>
<line x1="196.8" y1="1621.2" x2="1449.0" y2="1621.2" stroke="#333" stroke-width="3.4"/>
<text x="0" y="0" font-size="47.50" font-family="&apos;Liberation Sans&apos;, sans-serif" fill="#000" text-anchor="middle" transform="translate(170.39,2488.40) scale(0.900,1)">3</text>
<text x="0" y="0" font-size="47.50" font-family="&apos;Liberation Sans&apos;, sans-serif" fill="#000" text-anchor="middle" transform="translate(196.80,2488.40) scale(0.870,1)">0</text>
<text x="0" y="0" font-size="47.50" font-family="&apos;Liberation Sans&apos;, sans-serif" fill="#000" text-anchor="middle" transform="translate(223.21,2488.40) scale(0.870,1)">0</text>
<text x="0" y="0" font-size="47.50" font-family="&apos;Liberation Sans&apos;, sans-serif" fill="#000" text-anchor="middle" transform="translate(483.44,2488.40) scale(1.000,1)">4</text>
<text x="0" y="0" font-size="47.50" font-family="&apos;Liberation Sans&apos;, sans-serif" fill="#000" text-anchor="middle" transform="translate(509.85,2488.40) scale(0.870,1)">0</text>
<text x="0" y="0" font-size="47.50" font-family="&apos;Liberation Sans&apos;, sans-serif" fill="#000" text-anchor="middle" transform="translate(536.26,2488.40) scale(0.870,1)">0</text>
<text x="0" y="0" font-size="47.50" font-family="&apos;Liberation Sans&apos;, sans-serif" fill="#000" text-anchor="middle" transform="translate(796.49,2488.40) scale(0.920,1)">5</text>
<text x="0" y="0" font-size="47.50" font-family="&apos;Liberation Sans&apos;, sans-serif" fill="#000" text-anchor="middle" transform="translate(822.90,2488.40) scale(0.870,1)">0</text>
<text x="0" y="0" font-size="47.50" font-family="&apos;Liberation Sans&apos;, sans-serif" fill="#000" text-anchor="middle" transform="translate(849.31,2488.40) scale(0.870,1)">0</text>
<text x="0" y="0" font-size="47.50" font-family="&apos;Liberation Sans&apos;, sans-serif" fill="#000" text-anchor="middle" transform="translate(1109.54,2488.40) scale(0.880,1)">6</text>
<text x="0" y="0" font-size="47.50" font-family="&apos;Liberation Sans&apos;, sans-serif" fill="#000" text-anchor="middle" transform="translate(1135.95,2488.40) scale(0.870,1)">0</text>
<text x="0" y="0" font-size="47.50" font-family="&apos;Liberation Sans&apos;, sans-serif" fill="#000" text-anchor="middle" transform="translate(1162.36,2488.40) scale(0.870,1)">0</text>
<text x="0" y="0" font-size="47.50" font-family="&apos;Liberation Sans&apos;, sans-serif" fill="#000" text-anchor="middle" transform="translate(1422.59,2488.40) scale(0.920,1)">7</text>
<text x="0" y="0" font-size="47.50" font-family="&apos;Liberation Sans&apos;, sans-serif" fill="#000" text-anchor="middle" transform="translate(1449.00,2488.40) scale(0.870,1)">0</text>
<text x="0" y="0" font-size="47.50" font-family="&apos;Liberation Sans&apos;, sans-serif" fill="#000" text-anchor="middle" transform="translate(1475.41,2488.40) scale(0.870,1)">0</text>
<text x="825.3" y="2579.8" font-size="65" text-anchor="middle" font-family="&apos;Liberation Sans&apos;, sans-serif" fill="#000">Wavelength (nm)</text>
<text x="0" y="0" font-size="65" text-anchor="middle" font-family="&apos;Liberation Sans&apos;, sans-serif" fill="#000" transform="translate(76.6,1222.5) rotate(-90)">IPCE (%)</text>
<line x1="1246.4" y1="73.5" x2="1351.5" y2="73.5" stroke="#333" stroke-width="3.8"/>
<text x="1364.30" y="89.10" font-size="46.50" font-family="&apos;Liberation Sans&apos;, sans-serif" fill="#000">P</text>
<path d="M763,0H583V1147Q518,1085 412.5,1023T223,930V1104Q373,1175 485.5,1276T645,1472H763Z" fill="#000" transform="translate(1395.32,89.10) scale(0.02271,-0.02271)"/>
<line x1="1246.4" y1="130.7" x2="1351.5" y2="130.7" stroke="#ff0000" stroke-width="2.6"/>
<circle cx="1298.6" cy="130.7" r="10.6" fill="#fff" stroke="#ff0000" stroke-width="2.2" stroke-dasharray="3.2,1.3"/>
<text x="1364.30" y="145.90" font-size="46.50" font-family="&apos;Liberation Sans&apos;, sans-serif" fill="#000">B2</text>
<line x1="1246.4" y1="188.8" x2="1351.5" y2="188.8" stroke="#ffa8a8" stroke-width="4.2"/>
<circle cx="1298.6" cy="188.8" r="11.8" fill="#ff0000" stroke="none" stroke-width="0.0"/>
<text x="1364.30" y="204.30" font-size="46.50" font-family="&apos;Liberation Sans&apos;, sans-serif" fill="#000">B3</text>
<line x1="1213.2" y1="872.3" x2="1341.1" y2="872.3" stroke="#333" stroke-width="4.0"/>
<text x="1355.00" y="889.80" font-size="53.00" font-family="&apos;Liberation Sans&apos;, sans-serif" fill="#000">P</text>
<path d="M763,0H583V1147Q518,1085 412.5,1023T223,930V1104Q373,1175 485.5,1276T645,1472H763Z" fill="#000" transform="translate(1390.35,889.80) scale(0.02588,-0.02588)"/>
<line x1="1213.2" y1="939.9" x2="1341.1" y2="939.9" stroke="#00a23c" stroke-width="3.6"/>
<circle cx="1276.4" cy="939.9" r="10.6" fill="#fff" stroke="#00a23c" stroke-width="2.3" stroke-dasharray="3.2,1.3"/>
<text x="1355.00" y="958.30" font-size="53.00" font-family="&apos;Liberation Sans&apos;, sans-serif" fill="#000">H2</text>
<line x1="1213.2" y1="1007.4" x2="1341.1" y2="1007.4" stroke="#00a23c" stroke-width="3.6"/>
<circle cx="1276.4" cy="1007.4" r="11.7" fill="#008000" stroke="none" stroke-width="0.0"/>
<text x="1355.00" y="1026.20" font-size="53.00" font-family="&apos;Liberation Sans&apos;, sans-serif" fill="#000">H3</text>
<line x1="1235.1" y1="1673.8" x2="1343.9" y2="1673.8" stroke="#555" stroke-width="3.8"/>
<text x="1355.20" y="1688.90" font-size="46.50" font-family="&apos;Liberation Sans&apos;, sans-serif" fill="#000">P</text>
<path d="M763,0H583V1147Q518,1085 412.5,1023T223,930V1104Q373,1175 485.5,1276T645,1472H763Z" fill="#000" transform="translate(1386.22,1688.90) scale(0.02271,-0.02271)"/>
<line x1="1235.1" y1="1730.5" x2="1343.9" y2="1730.5" stroke="#0000ff" stroke-width="3.0"/>
<polygon points="1290.0,1717.0 1302.3,1738.0 1277.7,1738.0" fill="#fff" stroke="#0000ff" stroke-width="2.2" stroke-linejoin="miter"/>
<text x="1355.20" y="1745.80" font-size="46.50" font-family="&apos;Liberation Sans&apos;, sans-serif" fill="#000">O2</text>
<line x1="1235.1" y1="1787.9" x2="1343.9" y2="1787.9" stroke="#0000ff" stroke-width="3.0"/>
<polygon points="1290.0,1773.1 1303.4,1795.9 1276.6,1795.9" fill="#0000ff" stroke="none" stroke-width="0.0" stroke-linejoin="miter"/>
<text x="1355.20" y="1803.20" font-size="46.50" font-family="&apos;Liberation Sans&apos;, sans-serif" fill="#000">O3</text></svg>
</body></html>
